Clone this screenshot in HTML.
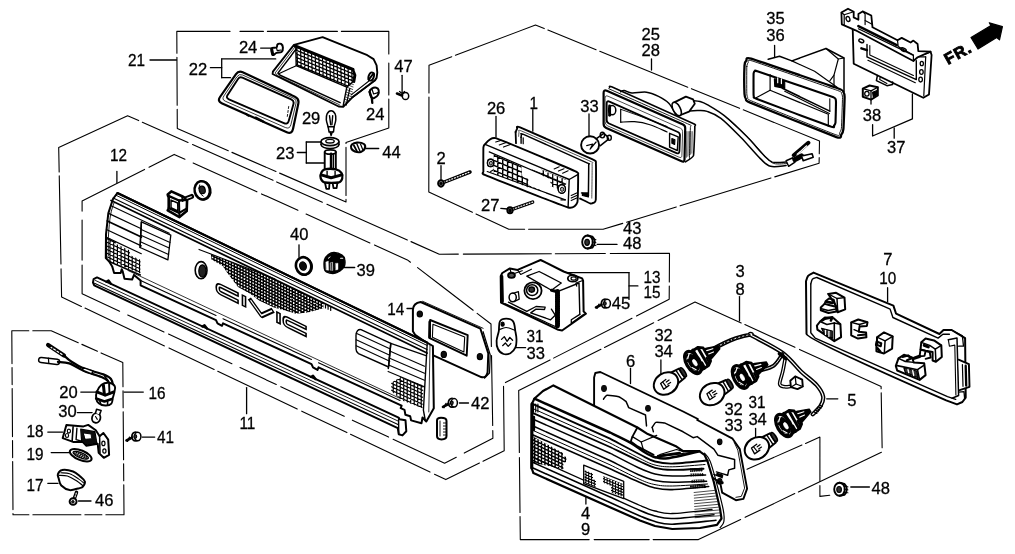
<!DOCTYPE html>
<html><head><meta charset="utf-8"><title>Taillight parts diagram</title>
<style>html,body{margin:0;padding:0;background:#fff}svg{display:block;font-family:"Liberation Sans",sans-serif;fill:#000}</style>
</head><body>
<svg width="1015" height="554" viewBox="0 0 1015 554">
<rect x="0" y="0" width="1015" height="554" fill="#fff" stroke="none"/>
<defs><filter id="soft" x="0" y="0" width="100%" height="100%" filterUnits="userSpaceOnUse"><feGaussianBlur stdDeviation="0.38"/></filter></defs>
<g filter="url(#soft)">
<path d="M230 31.4 L176.8 31.4 L177.3 128.6 L346 202 L346 142.6 L388.8 128 L388.8 63" fill="none" stroke="#000" stroke-width="1.1" stroke-linejoin="round" stroke-linecap="round" stroke-dasharray="75 4 48 4" />
<path d="M388.8 54 L388.8 31.4 L240 31.4" fill="none" stroke="#000" stroke-width="1.1" stroke-linejoin="round" stroke-linecap="round" stroke-dasharray="70 4" />
<path d="M428.8 192 L429 65.3 L535.5 25 L819.5 141 L819.1 163.3 L621 223.9 L603.1 229.3 L508.8 229.3 L428.8 192" fill="none" stroke="#000" stroke-width="1.1" stroke-linejoin="round" stroke-linecap="round" stroke-dasharray="95 4 52 4" />
<path d="M58.7 147.5 L127.6 115.7 L439.3 254.2 L669.5 253.2 L669.2 299.3 L503.5 383.6 L504.2 450.8 L445.8 479.6 L61.6 297 L58.7 147.5" fill="none" stroke="#000" stroke-width="1.1" stroke-linejoin="round" stroke-linecap="round" stroke-dasharray="88 4 50 5" />
<path d="M82.1 201 L174.2 154.4 L407.4 259.9 L441.6 286 L491 324 L492.9 438.2 L444.6 463.3 L82.1 293.7 L82.1 201" fill="none" stroke="#000" stroke-width="1.1" stroke-linejoin="round" stroke-linecap="round" stroke-dasharray="70 5 40 9" />
<path d="M518.7 390.5 L695 302 L881.1 386.4 L882.2 451.9 L698.4 539.6 L520.3 539.6 L518.7 390.5" fill="none" stroke="#000" stroke-width="1.1" stroke-linejoin="round" stroke-linecap="round" stroke-dasharray="92 4 55 5" />
<path d="M11.8 330.7 L51.2 330.7 L122.8 362.6 L124 514.7 L13 514.7 L11.8 330.7" fill="none" stroke="#000" stroke-width="1.1" stroke-linejoin="round" stroke-linecap="round" stroke-dasharray="17 4 48 4" />
<path d="M747 469.2 L819.9 437.1 L819.9 496.4 L829.8 495.2" fill="none" stroke="#000" stroke-width="1.1" stroke-linejoin="round" stroke-linecap="round" stroke-dasharray="60 4" />
<text transform="translate(127.9 66.2) scale(0.9 1)" font-size="17" font-weight="normal" stroke="#000" stroke-width="0.3">21</text>
<text transform="translate(188.7 74.7) scale(0.975 1)" font-size="17" font-weight="normal" stroke="#000" stroke-width="0.3">22</text>
<text transform="translate(238.9 52.6) scale(0.975 1)" font-size="17" font-weight="normal" stroke="#000" stroke-width="0.3">24</text>
<text transform="translate(366 119.7) scale(0.975 1)" font-size="17" font-weight="normal" stroke="#000" stroke-width="0.3">24</text>
<text transform="translate(394.2 72.3) scale(0.975 1)" font-size="17" font-weight="normal" stroke="#000" stroke-width="0.3">47</text>
<text transform="translate(301.9 123.7) scale(0.975 1)" font-size="17" font-weight="normal" stroke="#000" stroke-width="0.3">29</text>
<text transform="translate(276.1 159.4) scale(0.975 1)" font-size="17" font-weight="normal" stroke="#000" stroke-width="0.3">23</text>
<text transform="translate(382.3 157.5) scale(0.975 1)" font-size="17" font-weight="normal" stroke="#000" stroke-width="0.3">44</text>
<text transform="translate(486.9 114.2) scale(0.975 1)" font-size="17" font-weight="normal" stroke="#000" stroke-width="0.3">26</text>
<text transform="translate(529.6 108.5) scale(0.9 1)" font-size="17" font-weight="normal" stroke="#000" stroke-width="0.3">1</text>
<text transform="translate(580.2 112.3) scale(0.975 1)" font-size="17" font-weight="normal" stroke="#000" stroke-width="0.3">33</text>
<text transform="translate(436.6 163.5) scale(0.975 1)" font-size="17" font-weight="normal" stroke="#000" stroke-width="0.3">2</text>
<text transform="translate(481 210.5) scale(0.975 1)" font-size="17" font-weight="normal" stroke="#000" stroke-width="0.3">27</text>
<text transform="translate(641.6 39.5) scale(0.975 1)" font-size="17" font-weight="normal" stroke="#000" stroke-width="0.3">25</text>
<text transform="translate(641.6 56) scale(0.975 1)" font-size="17" font-weight="normal" stroke="#000" stroke-width="0.3">28</text>
<text transform="translate(766.2 23.9) scale(0.975 1)" font-size="17" font-weight="normal" stroke="#000" stroke-width="0.3">35</text>
<text transform="translate(766.2 41) scale(0.975 1)" font-size="17" font-weight="normal" stroke="#000" stroke-width="0.3">36</text>
<text transform="translate(862.8 120.5) scale(0.975 1)" font-size="17" font-weight="normal" stroke="#000" stroke-width="0.3">38</text>
<text transform="translate(887 153) scale(0.975 1)" font-size="17" font-weight="normal" stroke="#000" stroke-width="0.3">37</text>
<text transform="translate(623.1 234.3) scale(0.975 1)" font-size="17" font-weight="normal" stroke="#000" stroke-width="0.3">43</text>
<text transform="translate(623.1 249.2) scale(0.975 1)" font-size="17" font-weight="normal" stroke="#000" stroke-width="0.3">48</text>
<text transform="translate(643.5 282.5) scale(0.9 1)" font-size="17" font-weight="normal" stroke="#000" stroke-width="0.3">13</text>
<text transform="translate(643.5 298.4) scale(0.9 1)" font-size="17" font-weight="normal" stroke="#000" stroke-width="0.3">15</text>
<text transform="translate(611.7 308.5) scale(0.975 1)" font-size="17" font-weight="normal" stroke="#000" stroke-width="0.3">45</text>
<text transform="translate(110.1 160.5) scale(0.9 1)" font-size="17" font-weight="normal" stroke="#000" stroke-width="0.3">12</text>
<text transform="translate(290.1 240) scale(0.975 1)" font-size="17" font-weight="normal" stroke="#000" stroke-width="0.3">40</text>
<text transform="translate(356.6 275.5) scale(0.975 1)" font-size="17" font-weight="normal" stroke="#000" stroke-width="0.3">39</text>
<text transform="translate(387.3 314.6) scale(0.9 1)" font-size="17" font-weight="normal" stroke="#000" stroke-width="0.3">14</text>
<text transform="translate(526.6 342) scale(0.9 1)" font-size="17" font-weight="normal" stroke="#000" stroke-width="0.3">31</text>
<text transform="translate(526.6 358.7) scale(0.975 1)" font-size="17" font-weight="normal" stroke="#000" stroke-width="0.3">33</text>
<text transform="translate(471.1 408.7) scale(0.975 1)" font-size="17" font-weight="normal" stroke="#000" stroke-width="0.3">42</text>
<text transform="translate(239.4 429) scale(0.9 1)" font-size="17" font-weight="normal" stroke="#000" stroke-width="0.3">11</text>
<text transform="translate(59.2 397.8) scale(0.975 1)" font-size="17" font-weight="normal" stroke="#000" stroke-width="0.3">20</text>
<text transform="translate(58.3 417.2) scale(0.975 1)" font-size="17" font-weight="normal" stroke="#000" stroke-width="0.3">30</text>
<text transform="translate(148.6 399) scale(0.9 1)" font-size="17" font-weight="normal" stroke="#000" stroke-width="0.3">16</text>
<text transform="translate(26.4 437.3) scale(0.9 1)" font-size="17" font-weight="normal" stroke="#000" stroke-width="0.3">18</text>
<text transform="translate(26.4 460) scale(0.9 1)" font-size="17" font-weight="normal" stroke="#000" stroke-width="0.3">19</text>
<text transform="translate(26.4 491.2) scale(0.9 1)" font-size="17" font-weight="normal" stroke="#000" stroke-width="0.3">17</text>
<text transform="translate(95.1 505.6) scale(0.975 1)" font-size="17" font-weight="normal" stroke="#000" stroke-width="0.3">46</text>
<text transform="translate(157 442.8) scale(0.9 1)" font-size="17" font-weight="normal" stroke="#000" stroke-width="0.3">41</text>
<text transform="translate(735.6 277) scale(0.975 1)" font-size="17" font-weight="normal" stroke="#000" stroke-width="0.3">3</text>
<text transform="translate(735.6 295) scale(0.975 1)" font-size="17" font-weight="normal" stroke="#000" stroke-width="0.3">8</text>
<text transform="translate(883.2 265.2) scale(0.975 1)" font-size="17" font-weight="normal" stroke="#000" stroke-width="0.3">7</text>
<text transform="translate(879.3 283.8) scale(0.9 1)" font-size="17" font-weight="normal" stroke="#000" stroke-width="0.3">10</text>
<text transform="translate(847.3 405.7) scale(0.975 1)" font-size="17" font-weight="normal" stroke="#000" stroke-width="0.3">5</text>
<text transform="translate(654.4 340.7) scale(0.975 1)" font-size="17" font-weight="normal" stroke="#000" stroke-width="0.3">32</text>
<text transform="translate(654.4 357.3) scale(0.975 1)" font-size="17" font-weight="normal" stroke="#000" stroke-width="0.3">34</text>
<text transform="translate(626 367) scale(0.975 1)" font-size="17" font-weight="normal" stroke="#000" stroke-width="0.3">6</text>
<text transform="translate(724.4 414.9) scale(0.975 1)" font-size="17" font-weight="normal" stroke="#000" stroke-width="0.3">32</text>
<text transform="translate(724.4 430.9) scale(0.975 1)" font-size="17" font-weight="normal" stroke="#000" stroke-width="0.3">33</text>
<text transform="translate(748.4 408.2) scale(0.9 1)" font-size="17" font-weight="normal" stroke="#000" stroke-width="0.3">31</text>
<text transform="translate(748.4 424.7) scale(0.975 1)" font-size="17" font-weight="normal" stroke="#000" stroke-width="0.3">34</text>
<text transform="translate(871.5 493.5) scale(0.975 1)" font-size="17" font-weight="normal" stroke="#000" stroke-width="0.3">48</text>
<text transform="translate(581 518.7) scale(0.975 1)" font-size="17" font-weight="normal" stroke="#000" stroke-width="0.3">4</text>
<text transform="translate(581 535.4) scale(0.975 1)" font-size="17" font-weight="normal" stroke="#000" stroke-width="0.3">9</text>
<path d="M150 60 L176.5 60" fill="none" stroke="#000" stroke-width="1.3" stroke-linejoin="round" stroke-linecap="round" />
<path d="M210.4 67.7 L221.7 67.7" fill="none" stroke="#000" stroke-width="1.3" stroke-linejoin="round" stroke-linecap="round" />
<path d="M221.7 58.9 L221.7 77.7" fill="none" stroke="#000" stroke-width="1.3" stroke-linejoin="round" stroke-linecap="round" />
<path d="M221.7 58.9 L275.7 58.9" fill="none" stroke="#000" stroke-width="1.3" stroke-linejoin="round" stroke-linecap="round" />
<path d="M221.7 77.7 L230.5 77.7" fill="none" stroke="#000" stroke-width="1.3" stroke-linejoin="round" stroke-linecap="round" />
<path d="M260.6 48.1 L270.7 48.1" fill="none" stroke="#000" stroke-width="1.3" stroke-linejoin="round" stroke-linecap="round" />
<path d="M402.1 75.3 L402.1 92.9" fill="none" stroke="#000" stroke-width="1.3" stroke-linejoin="round" stroke-linecap="round" />
<path d="M297.3 152.5 L306.3 152.5" fill="none" stroke="#000" stroke-width="1.3" stroke-linejoin="round" stroke-linecap="round" />
<path d="M306.3 142 L306.3 163" fill="none" stroke="#000" stroke-width="1.3" stroke-linejoin="round" stroke-linecap="round" />
<path d="M306.3 142 L321 142" fill="none" stroke="#000" stroke-width="1.3" stroke-linejoin="round" stroke-linecap="round" />
<path d="M306.3 163 L324 163" fill="none" stroke="#000" stroke-width="1.3" stroke-linejoin="round" stroke-linecap="round" />
<path d="M366 148.5 L378.7 148.5" fill="none" stroke="#000" stroke-width="1.3" stroke-linejoin="round" stroke-linecap="round" />
<path d="M496 116.4 L496 137" fill="none" stroke="#000" stroke-width="1.3" stroke-linejoin="round" stroke-linecap="round" />
<path d="M532.8 109.6 L532.8 131.2" fill="none" stroke="#000" stroke-width="1.3" stroke-linejoin="round" stroke-linecap="round" />
<path d="M589 114 L589 137" fill="none" stroke="#000" stroke-width="1.3" stroke-linejoin="round" stroke-linecap="round" />
<path d="M441 165.7 L441 179.4" fill="none" stroke="#000" stroke-width="1.3" stroke-linejoin="round" stroke-linecap="round" />
<path d="M500.8 208.3 L507.6 209" fill="none" stroke="#000" stroke-width="1.3" stroke-linejoin="round" stroke-linecap="round" />
<path d="M651.5 59 L651.5 70" fill="none" stroke="#000" stroke-width="1.3" stroke-linejoin="round" stroke-linecap="round" />
<path d="M774.6 45.5 L774.6 56.9" fill="none" stroke="#000" stroke-width="1.3" stroke-linejoin="round" stroke-linecap="round" />
<path d="M871 99.6 L871 104" fill="none" stroke="#000" stroke-width="1.3" stroke-linejoin="round" stroke-linecap="round" />
<path d="M912.4 93.9 L912.4 118.9 L872.6 136 L872.6 124.6" fill="none" stroke="#000" stroke-width="1.3" stroke-linejoin="round" stroke-linecap="round" />
<path d="M894.2 128 L894.2 138.2" fill="none" stroke="#000" stroke-width="1.3" stroke-linejoin="round" stroke-linecap="round" />
<path d="M597.2 244.4 L617 244.4" fill="none" stroke="#000" stroke-width="1.3" stroke-linejoin="round" stroke-linecap="round" />
<path d="M567.4 272.6 L629 272.6" fill="none" stroke="#000" stroke-width="1.3" stroke-linejoin="round" stroke-linecap="round" />
<path d="M629 272.6 L629 299.4" fill="none" stroke="#000" stroke-width="1.3" stroke-linejoin="round" stroke-linecap="round" />
<path d="M629 285.9 L637.9 285.9" fill="none" stroke="#000" stroke-width="1.3" stroke-linejoin="round" stroke-linecap="round" />
<path d="M116.9 171.4 L116.9 182.8" fill="none" stroke="#000" stroke-width="1.3" stroke-linejoin="round" stroke-linecap="round" />
<path d="M299 244.8 L299 257.3" fill="none" stroke="#000" stroke-width="1.3" stroke-linejoin="round" stroke-linecap="round" />
<path d="M344.4 267.5 L354.7 267.5" fill="none" stroke="#000" stroke-width="1.3" stroke-linejoin="round" stroke-linecap="round" />
<path d="M407 308.5 L412.7 308.5" fill="none" stroke="#000" stroke-width="1.3" stroke-linejoin="round" stroke-linecap="round" />
<path d="M516 347.7 L525.6 347.7" fill="none" stroke="#000" stroke-width="1.3" stroke-linejoin="round" stroke-linecap="round" />
<path d="M459.4 403 L468.5 403" fill="none" stroke="#000" stroke-width="1.3" stroke-linejoin="round" stroke-linecap="round" />
<path d="M246.6 387.6 L246.6 413.7" fill="none" stroke="#000" stroke-width="1.3" stroke-linejoin="round" stroke-linecap="round" />
<path d="M124 392.1 L143.3 392.1" fill="none" stroke="#000" stroke-width="1.3" stroke-linejoin="round" stroke-linecap="round" />
<path d="M80.8 392.1 L95.5 392.1" fill="none" stroke="#000" stroke-width="1.3" stroke-linejoin="round" stroke-linecap="round" />
<path d="M77.3 412.6 L92.1 412.6" fill="none" stroke="#000" stroke-width="1.3" stroke-linejoin="round" stroke-linecap="round" />
<path d="M47.8 432.1 L62.6 432.1" fill="none" stroke="#000" stroke-width="1.3" stroke-linejoin="round" stroke-linecap="round" />
<path d="M51.2 452.6 L69.4 452.6" fill="none" stroke="#000" stroke-width="1.3" stroke-linejoin="round" stroke-linecap="round" />
<path d="M47.8 483.3 L58 483.3" fill="none" stroke="#000" stroke-width="1.3" stroke-linejoin="round" stroke-linecap="round" />
<path d="M78.5 501 L91 501" fill="none" stroke="#000" stroke-width="1.3" stroke-linejoin="round" stroke-linecap="round" />
<path d="M142.2 437.1 L154.7 437.1" fill="none" stroke="#000" stroke-width="1.3" stroke-linejoin="round" stroke-linecap="round" />
<path d="M739.5 296.6 L739.5 320.9" fill="none" stroke="#000" stroke-width="1.3" stroke-linejoin="round" stroke-linecap="round" />
<path d="M887.6 287.7 L887.6 301.7" fill="none" stroke="#000" stroke-width="1.3" stroke-linejoin="round" stroke-linecap="round" />
<path d="M826.7 398.8 L837.8 398.8" fill="none" stroke="#000" stroke-width="1.3" stroke-linejoin="round" stroke-linecap="round" />
<path d="M660.9 360 L660.9 375.3" fill="none" stroke="#000" stroke-width="1.3" stroke-linejoin="round" stroke-linecap="round" />
<path d="M630.5 368.4 L630.5 383.6" fill="none" stroke="#000" stroke-width="1.3" stroke-linejoin="round" stroke-linecap="round" />
<path d="M755.6 428.4 L755.6 437.1" fill="none" stroke="#000" stroke-width="1.3" stroke-linejoin="round" stroke-linecap="round" />
<path d="M850.8 487 L869.4 487" fill="none" stroke="#000" stroke-width="1.3" stroke-linejoin="round" stroke-linecap="round" />
<path d="M585.9 495.3 L585.9 504" fill="none" stroke="#000" stroke-width="1.3" stroke-linejoin="round" stroke-linecap="round" />
<path d="M971 37.5 L991 25.6 L989.3 22.8 L1002.4 26.7 L999.5 39.8 L996.7 37.5 L978 49Z" fill="#000" stroke="#000" stroke-width="1.2" stroke-linejoin="round" stroke-linecap="round" />
<text transform="translate(948 65) rotate(-29)" font-size="16" font-weight="bold" letter-spacing="1" stroke="#000" stroke-width="0.9">FR.</text>
<path d="M294 44.8 L322.6 37.1 L367.3 55.2 L373.6 59.1 L376.6 65.4 L377.3 72.5 L376.6 77.9 L374.8 80.6 L352.1 97.6 L343.2 106.9 L338.7 106.5 L272.6 74 L272.9 71.6Z" fill="#fff" stroke="#000" stroke-width="1.9" stroke-linejoin="round" stroke-linecap="round" />
<path d="M296.2 48.9 L277.9 73.1 L280.1 75.2 L340.1 102.6" fill="none" stroke="#000" stroke-width="1.5" stroke-linejoin="round" stroke-linecap="round" />
<path d="M295.1 46.8 L275.2 72.9 L277.9 75.8 L339.4 104.7" fill="none" stroke="#000" stroke-width="0.8" stroke-linejoin="round" stroke-linecap="round" />
<path d="M278.8 73.8 L296.2 65.7" fill="none" stroke="#000" stroke-width="1.2" stroke-linejoin="round" stroke-linecap="round" />
<clipPath id="c1"><path d="M295.8 46.8 L352.7 70 L354.1 75.2 L353 81.8 L346.8 87.2 L296.2 65.7Z"/></clipPath>
<g clip-path="url(#c1)" stroke="#000" stroke-width="1.2" fill="none"><path d="M304.7 18.1L373.9 46.7M303.4 21.1L372.6 49.8M302.1 24.2L371.4 52.8M300.9 27.2L370.1 55.9M299.6 30.3L368.8 58.9M298.4 33.3L367.6 62M297.1 36.4L366.3 65M295.8 39.4L365 68.1M294.6 42.5L363.8 71.1M293.3 45.5L362.5 74.2M292 48.5L361.3 77.2M290.8 51.6L360 80.3M289.5 54.6L358.7 83.3M288.3 57.7L357.5 86.4M287 60.7L356.2 89.4M285.7 63.8L354.9 92.5M284.5 66.8L353.7 95.5M283.2 69.9L352.4 98.6M281.9 72.9L351.2 101.6M280.7 76L349.9 104.7M279.4 79L348.6 107.7M278.2 82.1L347.4 110.8M276.9 85.1L346.1 113.8M361.1 28.3L363.7 103.1M357.5 28.4L360.1 103.2M353.9 28.5L356.5 103.4M350.3 28.6L352.9 103.5M346.7 28.8L349.3 103.6M343.1 28.9L345.7 103.8M339.5 29L342.1 103.9M335.9 29.1L338.5 104M332.3 29.3L334.9 104.1M328.7 29.4L331.3 104.3M325.1 29.5L327.7 104.4M321.5 29.6L324.1 104.5M317.9 29.8L320.5 104.6M314.3 29.9L316.9 104.8M310.7 30L313.3 104.9M307.1 30.1L309.7 105M303.5 30.3L306.1 105.1M299.9 30.4L302.5 105.3M296.3 30.5L298.9 105.4M292.7 30.6L295.3 105.5M289.1 30.8L291.7 105.6"/></g>
<path d="M295.8 46.8 L352.7 70 L354.1 75.2 L353 81.8 L346.8 87.2 L296.2 65.7Z" fill="none" stroke="#000" stroke-width="1.4" stroke-linejoin="round" stroke-linecap="round" />
<path d="M294.7 45.7 L353 69.3" fill="none" stroke="#000" stroke-width="3" stroke-linejoin="round" stroke-linecap="round" />
<path d="M353 69.3 L355.2 75.2 L354.1 81.8" fill="none" stroke="#000" stroke-width="2.3" stroke-linejoin="round" stroke-linecap="round" />
<path d="M346.8 87.2 L343.2 105.6" fill="none" stroke="#000" stroke-width="1.4" stroke-linejoin="round" stroke-linecap="round" />
<path d="M349.8 88.6 L346.2 105.1" fill="none" stroke="#000" stroke-width="1.2" stroke-linejoin="round" stroke-linecap="round" />
<clipPath id="c2"><path d="M346.8 87.2 L354.1 81.8 L352.1 96.7 L344.1 104.7Z"/></clipPath>
<g clip-path="url(#c2)" stroke="#000" stroke-width="0.7" fill="none"><path d="M341.1 74.4L367.9 85.3M340.2 76.6L367 87.5M339.3 78.9L366.1 89.7M338.4 81.1L365.2 91.9M337.5 83.3L364.3 94.2M336.6 85.5L363.4 96.4M335.7 87.8L362.5 98.6M334.8 90L361.6 100.8M333.9 92.2L360.7 103.1M333 94.4L359.8 105.3M332.1 96.7L358.9 107.5M331.2 98.9L358 109.7M330.3 101.1L357.1 112"/></g>
<path d="M352.1 97.6 L375.4 80" fill="none" stroke="#000" stroke-width="1.4" stroke-linejoin="round" stroke-linecap="round" />
<path d="M351.2 94.9 L371.8 78.8" fill="none" stroke="#000" stroke-width="1.1" stroke-linejoin="round" stroke-linecap="round" />
<ellipse cx="371.2" cy="76.5" rx="2.6" ry="4.2" fill="#fff" stroke="#000" stroke-width="1.9" transform="rotate(20 371.2 76.5)"/>
<path d="M368.7 79.7 L373.6 73.4" fill="none" stroke="#000" stroke-width="1.9" stroke-linejoin="round" stroke-linecap="round" />
<path d="M236 74.1 Q238.6 70.4 242.7 72.3 L294.9 96.7 Q299.4 98.8 298.3 103.7 L293 129 Q291.9 134.4 286.8 132.2 L221.7 103.2 Q217.2 101.1 220 97 Z" fill="#fff" stroke="#000" stroke-width="2.2" stroke-linejoin="round" stroke-linecap="round" />
<path d="M238 79 Q239.7 76.5 242.4 77.7 L291.2 99.4 Q294.4 100.8 293.4 104.2 L288.7 120.9 Q287.6 124.7 283.9 123.1 L228.9 99.3 Q225.7 97.9 227.6 95 Z" fill="none" stroke="#000" stroke-width="1.9" stroke-linejoin="round" stroke-linecap="round" />
<path d="M237 76.6 Q239.1 73.4 242.6 75 L293.1 98 Q296.9 99.7 295.9 103.8 L290.9 124.7 Q289.7 129.4 285.3 127.5 L225.3 101.2 Q221.4 99.5 223.8 96.1 Z" fill="none" stroke="#000" stroke-width="0.8" stroke-linejoin="round" stroke-linecap="round" />
<path d="M245.8 113.7 L248.4 115.8" fill="none" stroke="#000" stroke-width="1.9" stroke-linejoin="round" stroke-linecap="round" />
<path d="M255.6 117.6 L263.6 121.7" fill="none" stroke="#000" stroke-width="2.3" stroke-linejoin="round" stroke-linecap="round" />
<path d="M288.7 106.5 L287.2 117.2" fill="none" stroke="#000" stroke-width="0.9" stroke-linejoin="round" stroke-linecap="round" stroke-dasharray="2 2" />
<path d="M271.7 48.4 C272.3 47.2 275.5 48.2 276.5 47.5 C277.5 46.8 276.8 44.9 277.6 44.3 C278.3 43.7 280.3 43.4 281.1 43.9 C282 44.5 282.9 46.2 282.9 47.5 C283 48.9 282.6 51.1 281.5 52 C280.4 52.9 278 52.4 276.5 52.9 C275 53.4 273.4 55.8 272.6 55 C271.8 54.3 271 49.7 271.7 48.4Z" fill="#fff" stroke="#000" stroke-width="2" stroke-linejoin="round" stroke-linecap="round" />
<path d="M271.7 48.9 L272.9 54.7" fill="none" stroke="#000" stroke-width="2.8" stroke-linejoin="round" stroke-linecap="round" />
<path d="M276.5 47.9 L277.2 50.7 L281.1 50" fill="none" stroke="#000" stroke-width="1.2" stroke-linejoin="round" stroke-linecap="round" />
<path d="M369.6 91.8 C369.6 90.3 370.7 89.3 371.8 88.6 C372.9 87.9 375.1 87.5 376.2 87.7 C377.4 88 378.3 88.9 378.6 90.1 C378.9 91.3 378.7 93.6 378 94.9 C377.4 96.1 375.9 97.1 374.8 97.6 C373.8 98.1 372.6 98.9 371.8 97.9 C370.9 97 369.6 93.4 369.6 91.8Z" fill="#fff" stroke="#000" stroke-width="2" stroke-linejoin="round" stroke-linecap="round" />
<path d="M369.6 91.8 L371.8 97.9 L372.3 102.9" fill="none" stroke="#000" stroke-width="2.3" stroke-linejoin="round" stroke-linecap="round" />
<path d="M371.8 88.6 L373.6 94 L378 92.6" fill="none" stroke="#000" stroke-width="1.2" stroke-linejoin="round" stroke-linecap="round" />
<path d="M328.1 126.7 C327.8 125.5 326.5 121.9 326.3 119.7 C326.2 117.6 326.3 115.3 327.1 113.8 C327.9 112.3 329.8 110.8 331.1 110.8 C332.4 110.8 334.3 112.3 335.1 113.8 C335.8 115.3 336 117.6 335.8 119.7 C335.7 121.9 334.4 125.5 334.1 126.7" fill="none" stroke="#000" stroke-width="1.5" stroke-linejoin="round" stroke-linecap="round" />
<path d="M328.1 126.7 L334.1 126.7 L333.5 132 L329.1 132Z" fill="none" stroke="#000" stroke-width="1.5" stroke-linejoin="round" stroke-linecap="round" />
<path d="M329.5 115.7 L330.7 124.7" fill="none" stroke="#000" stroke-width="1.4" stroke-linejoin="round" stroke-linecap="round" />
<path d="M332.7 115.7 L331.9 124.7" fill="none" stroke="#000" stroke-width="1.4" stroke-linejoin="round" stroke-linecap="round" />
<path d="M330.1 132 L331.1 135.6 L332.3 132" fill="none" stroke="#000" stroke-width="1.4" stroke-linejoin="round" stroke-linecap="round" />
<ellipse cx="330" cy="141.6" rx="9" ry="4" fill="#fff" stroke="#000" stroke-width="1.6" transform="rotate(0 330 141.6)"/>
<ellipse cx="330" cy="141.2" rx="4.2" ry="1.8" fill="none" stroke="#000" stroke-width="1.4" transform="rotate(0 330 141.2)"/>
<path d="M321 142 L321 144.5" fill="none" stroke="#000" stroke-width="1.4" stroke-linejoin="round" stroke-linecap="round" />
<path d="M339 142 L339 144.5" fill="none" stroke="#000" stroke-width="1.4" stroke-linejoin="round" stroke-linecap="round" />
<path d="M321 144.5 A9 4 0 0 0 339 144.5" fill="none" stroke="#000" stroke-width="1.5" stroke-linejoin="round" stroke-linecap="round" />
<path d="M324.7 151.9 L324.7 169.4 L335.8 169.4 L335.8 151.9" fill="#fff" stroke="#000" stroke-width="1.9" stroke-linejoin="round" stroke-linecap="round" />
<ellipse cx="330.3" cy="152" rx="5.6" ry="2.2" fill="#fff" stroke="#000" stroke-width="1.8" transform="rotate(0 330.3 152)"/>
<path d="M331.1 153.9 L331.1 169.4" fill="none" stroke="#000" stroke-width="2.6" stroke-linejoin="round" stroke-linecap="round" />
<path d="M333.5 153.9 L333.5 169.4" fill="none" stroke="#000" stroke-width="1.2" stroke-linejoin="round" stroke-linecap="round" />
<path d="M321.2 172.9 C321.8 171.4 322.3 170 324.7 169.4 C327.2 168.8 333.1 168.8 335.8 169.4 C338.6 170 340.4 171.4 341.4 172.9 C342.5 174.5 342.7 176.9 342.2 178.5 C341.7 180.1 341.5 181.8 338.6 182.5 C335.7 183.1 327.7 183.1 324.7 182.5 C321.7 181.8 321.4 180.1 320.8 178.5 C320.2 176.9 320.5 174.5 321.2 172.9Z" fill="#fff" stroke="#000" stroke-width="2.3" stroke-linejoin="round" stroke-linecap="round" />
<path d="M321.2 174.9 L331.1 177.7 L341.8 174.9" fill="none" stroke="#000" stroke-width="3" stroke-linejoin="round" stroke-linecap="round" />
<path d="M325.1 183.3 L326.3 188.8 L329.1 188.8 L329.5 183.3" fill="none" stroke="#000" stroke-width="1.8" stroke-linejoin="round" stroke-linecap="round" />
<path d="M332.7 183.3 L333.5 188.2 L336.6 188.2 L337.4 182.9" fill="none" stroke="#000" stroke-width="1.8" stroke-linejoin="round" stroke-linecap="round" />
<path d="M327.1 171.4 L327.1 177.3" fill="none" stroke="#000" stroke-width="1.4" stroke-linejoin="round" stroke-linecap="round" />
<path d="M335.1 171.4 L335.1 177.3" fill="none" stroke="#000" stroke-width="1.4" stroke-linejoin="round" stroke-linecap="round" />
<path d="M351.9 144.5 C352.9 143.6 354.9 142.7 356.9 142.6 C358.9 142.5 362.5 143 363.9 144 C365.2 144.9 365.3 147.2 364.8 148.5 C364.3 149.8 362.5 151.4 360.9 151.9 C359.2 152.4 356.5 152.1 354.9 151.5 C353.3 150.9 351.8 149.7 351.3 148.5 C350.8 147.4 351 145.5 351.9 144.5Z" fill="#fff" stroke="#000" stroke-width="2.1" stroke-linejoin="round" stroke-linecap="round" />
<path d="M353.9 145.5 L356.9 151.1" fill="none" stroke="#000" stroke-width="1.8" stroke-linejoin="round" stroke-linecap="round" />
<path d="M356.9 144 L359.9 151.1" fill="none" stroke="#000" stroke-width="1.4" stroke-linejoin="round" stroke-linecap="round" />
<path d="M360.5 144 L362.9 149.9" fill="none" stroke="#000" stroke-width="1.2" stroke-linejoin="round" stroke-linecap="round" />
<ellipse cx="405.5" cy="96" rx="3.2" ry="3.6" fill="none" stroke="#000" stroke-width="1.5" transform="rotate(0 405.5 96)"/>
<path d="M397 93.5 L402 95.5" fill="none" stroke="#000" stroke-width="2.6" stroke-linejoin="round" stroke-linecap="round" />
<path d="M399.5 91.5 L402.1 93.5 L404.6 91.5" fill="none" stroke="#000" stroke-width="1.2" stroke-linejoin="round" stroke-linecap="round" />
<path d="M515.6 132 C515.7 131.8 516.9 128.9 517.2 128.6 C517.5 128.3 515.1 125.3 520.1 127.4 C525.1 129.4 587.1 156.7 592.1 159.1 C597.2 161.6 595.7 161.2 595.9 163.9 C596.2 166.6 595.9 197.2 595.8 199.8 C595.6 202.4 594.2 202.4 593.9 202.7 C593.5 202.9 591.3 203.8 590.4 203.5 C589.5 203.3 580.8 198.9 580.1 198.6" fill="none" stroke="#000" stroke-width="1.9" stroke-linejoin="round" stroke-linecap="round" />
<path d="M515.6 132 L516 143.2" fill="none" stroke="#000" stroke-width="1.8" stroke-linejoin="round" stroke-linecap="round" />
<path d="M521.1 137.2 C521.1 137 521.3 134.9 521.5 134.8 C521.6 134.6 519.2 132.5 523.5 134.4 C527.9 136.3 582.7 160.9 587 162.9 C591.3 164.9 588.6 162.8 588.7 164.9 C588.8 167.1 588.4 193.4 588.4 195.5" fill="none" stroke="#000" stroke-width="1.5" stroke-linejoin="round" stroke-linecap="round" />
<path d="M588.4 195.5 L581.5 192.9" fill="none" stroke="#000" stroke-width="1.5" stroke-linejoin="round" stroke-linecap="round" />
<path d="M518.6 136.3 C518.6 136 518.9 132.4 519.1 132 C519.3 131.7 516.7 129 521.5 131 C526.2 132.9 585.4 159 590.1 161.2 C594.8 163.4 592 161.8 592.1 164.3 C592.3 166.7 591.8 195.8 591.8 198.1" fill="none" stroke="#000" stroke-width="0.7" stroke-linejoin="round" stroke-linecap="round" />
<path d="M582.4 192.9 L588.4 192.9 L588.4 196.9 L582.4 195.5Z" fill="#000" stroke="#000" stroke-width="1.2" stroke-linejoin="round" stroke-linecap="round" />
<path d="M521.1 137.2 L521.1 143.2" fill="none" stroke="#000" stroke-width="1.4" stroke-linejoin="round" stroke-linecap="round" />
<path d="M523.2 137.8 L523.2 143.7" fill="none" stroke="#000" stroke-width="1.2" stroke-linejoin="round" stroke-linecap="round" />
<path d="M483.4 147.4 C483.5 145.8 484.4 144.6 485.1 144 C485.8 143.5 490.3 136.6 495.7 138.2 C501.1 139.8 570.1 168.9 575 171.1 C579.9 173.3 577.9 173 578.1 174.9 C578.2 176.8 578 200.4 577.4 202.3 C576.8 204.3 573.6 209.1 568.1 207.5 C562.6 205.9 490.5 177.4 485.4 175.2 C480.4 173.1 483.5 173.1 483.4 171.5 C483.3 169.8 483.3 149.1 483.4 147.4Z" fill="#fff" stroke="#000" stroke-width="1.9" stroke-linejoin="round" stroke-linecap="round" />
<path d="M485.1 144.4 L569.2 179.5 L568.1 207.2" fill="none" stroke="#000" stroke-width="1.4" stroke-linejoin="round" stroke-linecap="round" />
<path d="M569.2 179.5 L577.7 174.6" fill="none" stroke="#000" stroke-width="1.3" stroke-linejoin="round" stroke-linecap="round" />
<path d="M489.2 151.9 L565.2 184.5" fill="none" stroke="#000" stroke-width="1.2" stroke-linejoin="round" stroke-linecap="round" />
<path d="M487.2 171.5 L565.4 199.9" fill="none" stroke="#000" stroke-width="1.2" stroke-linejoin="round" stroke-linecap="round" />
<path d="M571.2 195.5 L576.7 192.9" fill="none" stroke="#000" stroke-width="1.1" stroke-linejoin="round" stroke-linecap="round" />
<path d="M571.2 198.1 L576.7 195.5" fill="none" stroke="#000" stroke-width="1.1" stroke-linejoin="round" stroke-linecap="round" />
<path d="M571.2 200.6 L576.7 198.1" fill="none" stroke="#000" stroke-width="1.1" stroke-linejoin="round" stroke-linecap="round" />
<path d="M495.7 142 L501.7 140.2" fill="none" stroke="#000" stroke-width="1.1" stroke-linejoin="round" stroke-linecap="round" />
<path d="M499.2 144.9 L506.9 142.3" fill="none" stroke="#000" stroke-width="1.1" stroke-linejoin="round" stroke-linecap="round" />
<path d="M503.5 147.1 L510.3 144.5" fill="none" stroke="#000" stroke-width="1.1" stroke-linejoin="round" stroke-linecap="round" />
<path d="M554.1 168.9 L559.2 166.7" fill="none" stroke="#000" stroke-width="1.1" stroke-linejoin="round" stroke-linecap="round" />
<path d="M558.4 171.1 L564 168.7" fill="none" stroke="#000" stroke-width="1.1" stroke-linejoin="round" stroke-linecap="round" />
<path d="M562.6 173.2 L568.1 170.8" fill="none" stroke="#000" stroke-width="1.1" stroke-linejoin="round" stroke-linecap="round" />
<ellipse cx="490.6" cy="162.9" rx="3.1" ry="3.6" fill="#fff" stroke="#000" stroke-width="1.4" transform="rotate(0 490.6 162.9)"/>
<ellipse cx="490.9" cy="163.2" rx="1.5" ry="1.9" fill="#aaa" stroke="#000" stroke-width="0.9" transform="rotate(0 490.9 163.2)"/>
<ellipse cx="561.8" cy="189" rx="3.6" ry="4.2" fill="#fff" stroke="#000" stroke-width="1.4" transform="rotate(0 561.8 189)"/>
<ellipse cx="562.1" cy="189.3" rx="1.7" ry="2.1" fill="#aaa" stroke="#000" stroke-width="0.9" transform="rotate(0 562.1 189.3)"/>
<clipPath id="c3"><path d="M493.7 154.3 L521.5 166.3 L522.2 176.3 L528.3 179 L528.3 187.6 L520.1 184.2 L493.7 173.5Z"/></clipPath>
<g clip-path="url(#c3)" stroke="#000" stroke-width="1.4" fill="none"><path d="M497.2 136.8L545.1 157.2M495.4 141.1L543.3 161.4M493.6 145.3L541.5 165.6M491.8 149.5L539.7 169.9M490 153.8L537.9 174.1M488.2 158L536.1 178.3M486.4 162.2L534.3 182.6M484.6 166.5L532.5 186.8M482.8 170.7L530.7 191M481 174.9L528.9 195.3M479.2 179.2L527.2 199.5M477.4 183.4L525.4 203.7M537 144.9L537 197M532.1 144.9L532.1 197M527.2 144.9L527.2 197M522.3 144.9L522.3 197M517.4 144.9L517.4 197M512.5 144.9L512.5 197M507.6 144.9L507.6 197M502.7 144.9L502.7 197M497.8 144.9L497.8 197M492.9 144.9L492.9 197M488 144.9L488 197"/></g>
<clipPath id="c4"><path d="M541.2 169.4 L566.1 179.7 L566.1 184.5 L559.6 182.1 L558.5 189 L550.6 186.2 L550.3 179.2 L541.2 175.2Z"/></clipPath>
<g clip-path="url(#c4)" stroke="#000" stroke-width="1.3" fill="none"><path d="M544.2 155.8L577 169.7M542.5 159.9L575.3 173.8M540.8 163.9L573.6 177.8M539 168L571.8 181.9M537.3 172L570.1 185.9M535.6 176.1L568.4 190M533.9 180.1L566.7 194M532.2 184.2L565 198.1M530.4 188.2L563.2 202.1M571.5 161.4L571.5 197M566.8 161.4L566.8 197M562.1 161.4L562.1 197M557.4 161.4L557.4 197M552.7 161.4L552.7 197M548 161.4L548 197M543.3 161.4L543.3 197M538.6 161.4L538.6 197"/></g>
<path d="M532.6 170.1 L541.2 173.5" fill="none" stroke="#000" stroke-width="0.9" stroke-linejoin="round" stroke-linecap="round" />
<path d="M529.2 186 L542.1 191.2" fill="none" stroke="#000" stroke-width="0.9" stroke-linejoin="round" stroke-linecap="round" stroke-dasharray="2 3" />
<path d="M490.6 171.5 L493.7 169.8" fill="none" stroke="#000" stroke-width="1.1" stroke-linejoin="round" stroke-linecap="round" />
<path d="M560.9 199.8 L565.2 199.8" fill="none" stroke="#000" stroke-width="1.2" stroke-linejoin="round" stroke-linecap="round" />
<ellipse cx="490.6" cy="162.9" rx="3.1" ry="3.6" fill="#fff" stroke="#000" stroke-width="1.4" transform="rotate(0 490.6 162.9)"/>
<ellipse cx="490.9" cy="163.2" rx="1.5" ry="1.9" fill="#aaa" stroke="#000" stroke-width="0.9" transform="rotate(0 490.9 163.2)"/>
<ellipse cx="561.8" cy="189" rx="3.6" ry="4.2" fill="#fff" stroke="#000" stroke-width="1.4" transform="rotate(0 561.8 189)"/>
<ellipse cx="562.1" cy="189.3" rx="1.7" ry="2.1" fill="#aaa" stroke="#000" stroke-width="0.9" transform="rotate(0 562.1 189.3)"/>
<ellipse cx="590.1" cy="144.9" rx="9" ry="8.6" fill="#fff" stroke="#000" stroke-width="1.9" transform="rotate(0 590.1 144.9)"/>
<path d="M596.1 138.9 L603.8 133.4 L607.2 136.3 L608.6 139.2 L600.4 145.7" fill="none" stroke="#000" stroke-width="1.6" stroke-linejoin="round" stroke-linecap="round" />
<ellipse cx="602.4" cy="135.1" rx="2.2" ry="2.8" fill="none" stroke="#000" stroke-width="1.4" transform="rotate(0 602.4 135.1)"/>
<ellipse cx="609.3" cy="137.8" rx="2" ry="2.6" fill="none" stroke="#000" stroke-width="1.4" transform="rotate(0 609.3 137.8)"/>
<path d="M586.7 145.7 L592.7 144 L590.1 149.2 L596.1 142" fill="none" stroke="#000" stroke-width="1.2" stroke-linejoin="round" stroke-linecap="round" />
<path d="M441 183.4 L470 172" fill="none" stroke="#000" stroke-width="3.5" stroke-linejoin="round" stroke-linecap="round" />
<path d="M441 183.4 L470 172" fill="none" stroke="#fff" stroke-width="1.2" stroke-linejoin="round" stroke-linecap="round" stroke-dasharray="1.0 1.9" />
<ellipse cx="441" cy="183.4" rx="2.8" ry="3.2" fill="#fff" stroke="#000" stroke-width="2.1" transform="rotate(0 441 183.4)"/>
<ellipse cx="441" cy="183.4" rx="1.2" ry="1.4" fill="#000" stroke="#000" stroke-width="1.1" transform="rotate(0 441 183.4)"/>
<path d="M510 210.2 L532.6 202.1" fill="none" stroke="#000" stroke-width="3.5" stroke-linejoin="round" stroke-linecap="round" />
<path d="M510 210.2 L532.6 202.1" fill="none" stroke="#fff" stroke-width="1.2" stroke-linejoin="round" stroke-linecap="round" stroke-dasharray="1.0 1.9" />
<ellipse cx="510" cy="210.2" rx="2.6" ry="3" fill="#fff" stroke="#000" stroke-width="2.1" transform="rotate(0 510 210.2)"/>
<ellipse cx="510" cy="210.2" rx="1.2" ry="1.4" fill="#000" stroke="#000" stroke-width="1.1" transform="rotate(0 510 210.2)"/>
<path d="M692 100.5 C693.3 100.7 697.5 100.8 700 101.5 C702.5 102.2 703.1 102.2 707.2 104.6 C711.2 107 717.7 110.4 724.3 115.7 C730.9 121 740 129.7 746.6 136.3 C753.2 142.9 759.5 150.9 763.8 155.2 C768.1 159.5 768.6 160.9 772.3 162.1 C776.1 163.2 783.8 162.1 786.1 162.1" fill="none" stroke="#000" stroke-width="1.5" stroke-linejoin="round" stroke-linecap="round" />
<path d="M688 111 C689.7 110.9 694.8 110.4 698 110.5 C701.2 110.6 703.3 110.1 707.2 111.4 C711 112.7 715.2 113.9 720.9 118.3 C726.6 122.7 734.9 131.3 741.5 138 C748 144.8 755.5 153.9 760.3 158.6 C765.2 163.3 766.3 165.2 770.6 166.3 C774.9 167.5 783.5 165.6 786.1 165.5" fill="none" stroke="#000" stroke-width="1.5" stroke-linejoin="round" stroke-linecap="round" />
<path d="M725.9 117.1 C729.6 120.6 741.6 131.1 748.2 137.7 C754.8 144.3 761.1 152.3 765.4 156.6 C769.7 160.9 770.2 162.3 773.9 163.5 C777.7 164.6 785.4 163.5 787.7 163.5" fill="none" stroke="#000" stroke-width="0.9" stroke-linejoin="round" stroke-linecap="round" />
<path d="M786.1 160.7 L792.9 157.8 L795 162.1 L788.6 166.3Z" fill="#fff" stroke="#000" stroke-width="1.5" stroke-linejoin="round" stroke-linecap="round" />
<path d="M793.8 155.2 L808.4 142.8" fill="none" stroke="#000" stroke-width="4" stroke-linejoin="round" stroke-linecap="round" />
<path d="M797.2 154.3 L806.7 145.8" fill="none" stroke="#fff" stroke-width="1.2" stroke-linejoin="round" stroke-linecap="round" />
<path d="M795 159.5 L801.5 156" fill="none" stroke="#000" stroke-width="5.3" stroke-linejoin="round" stroke-linecap="round" />
<path d="M801.5 156 L812.1 153.8 L813.2 157.2 L803.2 160.7Z" fill="#fff" stroke="#000" stroke-width="1.6" stroke-linejoin="round" stroke-linecap="round" />
<path d="M609.6 87.4 C609.7 87.3 608 85.2 612.2 87 C616.3 88.8 689 121.6 693.1 123.6 C697.3 125.5 694.8 124.9 694.8 126.5 C694.9 128.1 693.9 153.9 693.5 155.6 C693 157.4 686 161.5 685.6 161.8" fill="none" stroke="#000" stroke-width="1.6" stroke-linejoin="round" stroke-linecap="round" />
<path d="M608.7 88.7 C612.7 90.5 684.9 122.5 689 124.4 C693.1 126.3 690.4 125.4 690.4 127.2 C690.4 128.9 689.4 157.1 689.4 158.7" fill="none" stroke="#000" stroke-width="0.9" stroke-linejoin="round" stroke-linecap="round" />
<path d="M620.7 91.8 C621.3 91.6 622.3 90.2 624.2 90.4 C626 90.6 628.2 92.7 631.9 93 C635.6 93.3 642 91.6 646.5 92.2 C650.9 92.7 654.8 94.6 658.5 96.4 C662.2 98.3 665.9 100.4 668.8 103.3 C671.6 106.3 674.5 112.3 675.6 114.1" fill="none" stroke="#000" stroke-width="1.5" stroke-linejoin="round" stroke-linecap="round" />
<path d="M674.3 102.4 L685.9 96.6 L693.1 99.4 L694.8 103.8 L689 111.7 L679.4 115.5Z" fill="#fff" stroke="#000" stroke-width="1.8" stroke-linejoin="round" stroke-linecap="round" />
<ellipse cx="676.7" cy="109" rx="3.6" ry="7.4" fill="#fff" stroke="#000" stroke-width="1.6" transform="rotate(-28 676.7 109)"/>
<path d="M685.9 96.6 L688.5 100.7 L689 111.7" fill="none" stroke="#000" stroke-width="0" stroke-linejoin="round" stroke-linecap="round" />
<path d="M603.6 92.9 Q603.6 89.4 606.8 90.8 L683 124.4 Q685.2 125.4 685.2 127.9 L684.5 159.5 Q684.4 162.5 681.6 161.3 L606.3 128 Q603.6 126.8 603.6 123.8 Z" fill="#fff" stroke="#000" stroke-width="2.2" stroke-linejoin="round" stroke-linecap="round" />
<path d="M606.7 103.4 Q606.7 100.4 609.4 101.6 L677.8 132 Q680.1 133 680 135.5 L679.4 151.3 Q679.2 154.3 676.5 153.1 L609 123.5 Q606.7 122.5 606.7 120 Z" fill="none" stroke="#000" stroke-width="1.8" stroke-linejoin="round" stroke-linecap="round" />
<path d="M605.1 98.1 Q605.1 94.9 608 96.2 L680.4 128.2 Q682.7 129.2 682.6 131.7 L681.9 155.4 Q681.8 158.4 679.1 157.2 L607.7 125.9 Q605.1 124.8 605.1 122 Z" fill="none" stroke="#000" stroke-width="0.7" stroke-linejoin="round" stroke-linecap="round" />
<path d="M620.7 109.3 L620.7 122.2" fill="none" stroke="#000" stroke-width="1.2" stroke-linejoin="round" stroke-linecap="round" />
<path d="M620.7 122.2 C623 122.1 629.6 121.2 634.5 121.7 C639.3 122.1 644.5 123 649.9 124.8 C655.3 126.5 664.2 130.8 667.1 132" fill="none" stroke="#000" stroke-width="1.2" stroke-linejoin="round" stroke-linecap="round" />
<path d="M620.7 109.3 L637.9 115.3 L667.1 126.5" fill="none" stroke="#000" stroke-width="0.9" stroke-linejoin="round" stroke-linecap="round" />
<ellipse cx="612.2" cy="110.2" rx="3.6" ry="4.6" fill="none" stroke="#000" stroke-width="1.5" transform="rotate(0 612.2 110.2)"/>
<path d="M609.6 105.9 L609.6 115.3" fill="none" stroke="#000" stroke-width="2.9" stroke-linejoin="round" stroke-linecap="round" />
<path d="M669.6 133.3 L678.2 136.8 L677.3 150.5 L669.6 147.1Z" fill="none" stroke="#000" stroke-width="1.4" stroke-linejoin="round" stroke-linecap="round" />
<path d="M671.9 138.5 L674.9 139.8 L674.6 144.5 L671.9 143.3Z" fill="#000" stroke="#000" stroke-width="1.2" stroke-linejoin="round" stroke-linecap="round" />
<path d="M686.8 131.6 L686.4 157.3" fill="none" stroke="#000" stroke-width="0.6" stroke-linejoin="round" stroke-linecap="round" />
<path d="M688.2 131.6 L687.8 156.3" fill="none" stroke="#000" stroke-width="0.6" stroke-linejoin="round" stroke-linecap="round" />
<path d="M689.5 131.6 L689.2 155.3" fill="none" stroke="#000" stroke-width="0.6" stroke-linejoin="round" stroke-linecap="round" />
<path d="M690.9 131.6 L690.6 154.3" fill="none" stroke="#000" stroke-width="0.6" stroke-linejoin="round" stroke-linecap="round" />
<path d="M692.3 131.6 L691.9 153.2" fill="none" stroke="#000" stroke-width="0.6" stroke-linejoin="round" stroke-linecap="round" />
<path d="M768.2 59.3 L779.5 56.3 L791.9 60.9 L826 48.5 L844 58 L844 92.1 L837.4 88.3" fill="#fff" stroke="#000" stroke-width="1.5" stroke-linejoin="round" stroke-linecap="round" />
<path d="M791.9 60.9 L814.6 71.3 L837.4 87.4" fill="none" stroke="#000" stroke-width="1.2" stroke-linejoin="round" stroke-linecap="round" />
<path d="M826 48.5 L838.3 59 L834 75.1 L834 85.5" fill="none" stroke="#000" stroke-width="1.2" stroke-linejoin="round" stroke-linecap="round" />
<path d="M838.3 59 L844 58" fill="none" stroke="#000" stroke-width="1.2" stroke-linejoin="round" stroke-linecap="round" />
<path d="M834 75.1 L829.8 80.8" fill="none" stroke="#000" stroke-width="1.1" stroke-linejoin="round" stroke-linecap="round" />
<path d="M744.5 65.6 C744.6 63.4 745.9 60.9 746.4 60.5 C746.8 60 745 56.7 751.1 58.6 C757.2 60.4 832.2 86.3 838.3 88.5 C844.5 90.8 843 91.6 843.4 92.1 C843.9 92.7 844.6 94.4 844.6 96.9 C844.6 99.3 843.7 126.6 843.4 129.1 C843.2 131.6 841.6 134.3 841.2 134.8 C840.7 135.3 842.5 139.2 836.4 137.1 C830.4 134.9 756.2 105.1 750.2 102.6 C744.1 100 746.4 99.7 746 99.1 C745.6 98.6 744.6 96.3 744.5 94 C744.4 91.8 744.4 67.8 744.5 65.6Z" fill="#fff" stroke="#000" stroke-width="2.3" stroke-linejoin="round" stroke-linecap="round" />
<path d="M746.8 66.5 C746.9 64.5 747.9 62.7 748.3 62.4 C748.6 62 746.1 59 752.1 60.9 C758 62.7 831.4 88.3 837.4 90.4 C843.3 92.6 841.2 93 841.5 93.5 C841.9 93.9 842.5 95.3 842.5 97.6 C842.5 100 841.6 126 841.4 128.3 C841.1 130.7 839.8 132.5 839.5 132.9 C839.1 133.3 841.7 136.9 835.9 134.8 C830 132.7 757.5 103.5 751.7 101 C745.8 98.6 748.2 98.5 747.9 98 C747.6 97.5 746.8 95.6 746.8 93.5 C746.7 91.4 746.7 68.6 746.8 66.5Z" fill="none" stroke="#000" stroke-width="0.9" stroke-linejoin="round" stroke-linecap="round" />
<path d="M753.6 73.4 C753.7 71.8 754.8 71.2 755.1 71.1 C755.4 71 753 69.8 758.1 71.5 C763.2 73.2 826.1 94.7 831.3 96.5 C836.5 98.3 835.2 98.6 835.5 99 C835.8 99.4 836 101 836 102.6 C836 104.1 835.6 121.1 835.5 122.7 C835.3 124.2 834.3 125.4 834 125.7 C833.6 126 835.9 128.4 830.7 126.6 C825.6 124.9 762.1 100.9 757 99 C751.9 97 754.4 97.5 754.1 97.3 C753.9 97 753.6 96.6 753.6 95 C753.5 93.4 753.5 75 753.6 73.4Z" fill="none" stroke="#000" stroke-width="2.1" stroke-linejoin="round" stroke-linecap="round" />
<path d="M770.1 74.5 L770.1 90.2 L756.2 97.8" fill="none" stroke="#000" stroke-width="1.2" stroke-linejoin="round" stroke-linecap="round" />
<path d="M770.1 90.2 L828.3 114.3 L828.3 126.3" fill="none" stroke="#000" stroke-width="1.2" stroke-linejoin="round" stroke-linecap="round" />
<path d="M782.4 88.3 L829.8 111.1" fill="none" stroke="#000" stroke-width="1.6" stroke-linejoin="round" stroke-linecap="round" />
<path d="M784.7 91.2 L829.4 113.6" fill="none" stroke="#000" stroke-width="1.1" stroke-linejoin="round" stroke-linecap="round" />
<path d="M774.4 78.9 L784.7 80.8 L784.7 88.3 L774.8 86.4Z" fill="#000" stroke="#000" stroke-width="1.2" stroke-linejoin="round" stroke-linecap="round" />
<path d="M777.7 77.9 L777.7 82.7" fill="none" stroke="#fff" stroke-width="1.2" stroke-linejoin="round" stroke-linecap="round" />
<path d="M781.4 78.9 L781.4 83.6" fill="none" stroke="#fff" stroke-width="1.2" stroke-linejoin="round" stroke-linecap="round" />
<path d="M829.8 98.8 L829.8 111.1" fill="none" stroke="#000" stroke-width="1.1" stroke-linejoin="round" stroke-linecap="round" />
<path d="M852.7 28.4 L917.2 56.9 L930.5 51.6 L931.6 55 L929 94.4 L923.3 97.8 L853.7 63.7Z" fill="#fff" stroke="#000" stroke-width="1.8" stroke-linejoin="round" stroke-linecap="round" />
<path d="M925.7 56.9 L923.8 95.7" fill="none" stroke="#000" stroke-width="1.2" stroke-linejoin="round" stroke-linecap="round" />
<path d="M917.2 56.9 L925.7 56.9" fill="none" stroke="#000" stroke-width="1.1" stroke-linejoin="round" stroke-linecap="round" />
<path d="M841.4 12.5 L848 8.7 L853.7 11.8 L853.7 17.4 L858.4 19.7 L858.4 14 L862.6 11.4 L871.3 15.5 L872.5 27.3 L897.5 40.2 L901.7 37.9 L910.6 42.5 L913.4 40.6 L917.6 44 L918.3 51.2 L930.5 51.6 L917.6 57.3 L913.4 61 L855.6 30.3 L841.8 24.3Z" fill="#fff" stroke="#000" stroke-width="1.8" stroke-linejoin="round" stroke-linecap="round" />
<path d="M858.4 26.2 L896.7 45.1" fill="none" stroke="#000" stroke-width="2.6" stroke-linejoin="round" stroke-linecap="round" />
<path d="M858.4 28.8 L913.4 55.4" fill="none" stroke="#000" stroke-width="1.2" stroke-linejoin="round" stroke-linecap="round" />
<path d="M841.4 12.5 L844.2 14.8 L844.2 25" fill="none" stroke="#000" stroke-width="1.2" stroke-linejoin="round" stroke-linecap="round" />
<path d="M844.2 14.8 L853.7 11.8" fill="none" stroke="#000" stroke-width="1.1" stroke-linejoin="round" stroke-linecap="round" />
<path d="M862.6 11.4 L865.1 14.2 L865.1 24.6" fill="none" stroke="#000" stroke-width="1.2" stroke-linejoin="round" stroke-linecap="round" />
<path d="M865.1 20.5 L872.1 24.3" fill="none" stroke="#000" stroke-width="1.1" stroke-linejoin="round" stroke-linecap="round" />
<path d="M897.5 40.2 L898.2 46.6 L913.4 55 L913.4 61" fill="none" stroke="#000" stroke-width="1.2" stroke-linejoin="round" stroke-linecap="round" />
<ellipse cx="848" cy="19" rx="1.8" ry="2.6" fill="none" stroke="#000" stroke-width="1.4" transform="rotate(-20 848 19)"/>
<ellipse cx="861.3" cy="40.8" rx="2.6" ry="1.6" fill="none" stroke="#000" stroke-width="1.4" transform="rotate(25 861.3 40.8)"/>
<ellipse cx="903.6" cy="49.7" rx="2.8" ry="1.5" fill="none" stroke="#000" stroke-width="1.4" transform="rotate(25 903.6 49.7)"/>
<ellipse cx="921.8" cy="63.5" rx="1.6" ry="2.2" fill="none" stroke="#000" stroke-width="1.3" transform="rotate(0 921.8 63.5)"/>
<ellipse cx="921.4" cy="72" rx="1.8" ry="2.4" fill="none" stroke="#000" stroke-width="1.3" transform="rotate(0 921.4 72)"/>
<ellipse cx="920.6" cy="79.6" rx="1.8" ry="2.4" fill="none" stroke="#000" stroke-width="1.3" transform="rotate(0 920.6 79.6)"/>
<path d="M867 44.5 L867 56.9 L916.3 79.6 L916.3 60.7" fill="none" stroke="#000" stroke-width="1.4" stroke-linejoin="round" stroke-linecap="round" />
<path d="M869.8 45.5 L869.8 55 L913.4 75.5" fill="none" stroke="#000" stroke-width="1.1" stroke-linejoin="round" stroke-linecap="round" />
<path d="M861.3 48.3 L867 50.2" fill="none" stroke="#000" stroke-width="2.3" stroke-linejoin="round" stroke-linecap="round" />
<path d="M867.9 60.3 L915.3 82.7" fill="none" stroke="#000" stroke-width="1.2" stroke-linejoin="round" stroke-linecap="round" />
<path d="M877.4 75.5 L876.4 80.6 L886.9 85.7 L892.6 84.4 L892.6 81.9" fill="none" stroke="#000" stroke-width="1.5" stroke-linejoin="round" stroke-linecap="round" />
<path d="M880.2 76.8 L879.7 79.6 L886.9 83.4" fill="none" stroke="#000" stroke-width="1.1" stroke-linejoin="round" stroke-linecap="round" />
<path d="M862.8 88.7 L869.6 85.5 L877.8 87.3 L877.8 95.5 L871 99.6 L862.8 96.8Z" fill="#fff" stroke="#000" stroke-width="2" stroke-linejoin="round" stroke-linecap="round" />
<path d="M862.8 88.7 L871 90.9 L877.8 87.3" fill="none" stroke="#000" stroke-width="1.3" stroke-linejoin="round" stroke-linecap="round" />
<path d="M871 90.9 L871 99.6" fill="none" stroke="#000" stroke-width="1.3" stroke-linejoin="round" stroke-linecap="round" />
<ellipse cx="866.9" cy="93.7" rx="2.2" ry="2.4" fill="none" stroke="#000" stroke-width="1.3" transform="rotate(0 866.9 93.7)"/>
<path d="M872.6 92.3 L877.1 90.5 L877.1 95 L873.3 96.8Z" fill="#000" stroke="#000" stroke-width="1.2" stroke-linejoin="round" stroke-linecap="round" />
<path d="M427.5 343.3 L415.1 334.7 L412.9 331.3 L412.9 309.7 Q413.2 303.1 420.7 302.0 L480.4 328.7 L488.3 353.5 L487.6 372.2 Q486.5 378.2 481.2 377.1 L433.3 355.3" fill="none" stroke="#000" stroke-width="2" stroke-linejoin="round" stroke-linecap="round" />
<path d="M483.1 331.7 L490.2 354.8 L489.5 373 L484.6 378.2" fill="none" stroke="#000" stroke-width="1.2" stroke-linejoin="round" stroke-linecap="round" />
<path d="M422.6 301.3 L483.1 328.3" fill="none" stroke="#000" stroke-width="0.9" stroke-linejoin="round" stroke-linecap="round" />
<path d="M430.1 320 L467.7 335.1 L466.7 355.7 L429.2 337.9Z" fill="none" stroke="#000" stroke-width="1.9" stroke-linejoin="round" stroke-linecap="round" />
<path d="M432.9 324.2 L464.7 336.9 L463.9 352 L432.4 337.3Z" fill="none" stroke="#000" stroke-width="1.1" stroke-linejoin="round" stroke-linecap="round" />
<ellipse cx="419.8" cy="314" rx="2.6" ry="3" fill="#111" stroke="#000" stroke-width="1.2" transform="rotate(0 419.8 314)"/>
<ellipse cx="443.8" cy="354.4" rx="2.6" ry="3" fill="#111" stroke="#000" stroke-width="1.2" transform="rotate(0 443.8 354.4)"/>
<ellipse cx="479.9" cy="356.7" rx="2.6" ry="3" fill="#111" stroke="#000" stroke-width="1.2" transform="rotate(0 479.9 356.7)"/>
<path d="M429.7 321.9 L429.7 336.9" fill="none" stroke="#000" stroke-width="2.6" stroke-linejoin="round" stroke-linecap="round" />
<path d="M506.2 318.7 C508.4 318.7 511.6 319.4 513.1 321.4 C514.7 323.5 514.8 328.1 515.3 331.1 C515.9 334.1 516.5 336.6 516.5 339.4 C516.5 342.1 516.4 345.4 515.3 347.7 C514.3 350 512.4 352.1 510.4 353.2 C508.4 354.2 505.5 354.7 503.5 354 C501.4 353.3 499.1 351.3 498 349 C496.8 346.8 496.4 343.7 496.6 340.8 C496.7 337.8 498.2 334.3 498.8 331.1 C499.3 327.9 498.6 323.5 499.9 321.4 C501.1 319.4 504 318.7 506.2 318.7Z" fill="#fff" stroke="#000" stroke-width="1.8" stroke-linejoin="round" stroke-linecap="round" />
<path d="M499.3 329.7 C500.5 329.3 503.7 327.4 506.2 327.5 C508.8 327.6 513.4 329.8 514.8 330.3" fill="none" stroke="#000" stroke-width="1.2" stroke-linejoin="round" stroke-linecap="round" />
<ellipse cx="502.6" cy="324.2" rx="1.6" ry="2" fill="#000" stroke="#000" stroke-width="1.2" transform="rotate(0 502.6 324.2)"/>
<path d="M501.5 339.4 L504.3 336.6 L507.1 341.3 L509.8 337.4 L512.6 340.2" fill="none" stroke="#000" stroke-width="1.3" stroke-linejoin="round" stroke-linecap="round" />
<path d="M502.6 345.7 L505.4 343 L508.2 346.3 L510.9 343.5" fill="none" stroke="#000" stroke-width="1.2" stroke-linejoin="round" stroke-linecap="round" />
<ellipse cx="587.5" cy="242" rx="5.3" ry="6.5" fill="#fff" stroke="#000" stroke-width="1.9" transform="rotate(0 587.5 242)"/>
<ellipse cx="587.1" cy="242.3" rx="2.3" ry="3" fill="#333" stroke="#000" stroke-width="1.2" transform="rotate(0 587.1 242.3)"/>
<path d="M587.5 235.5 L592.5 236.7 A5.2 6.5 0 0 1 592.5 247.5 L587.5 248.5" fill="none" stroke="#000" stroke-width="1.9" stroke-linejoin="round" stroke-linecap="round" />
<path d="M592 239 L596 239.6" fill="none" stroke="#000" stroke-width="0.9" stroke-linejoin="round" stroke-linecap="round" />
<path d="M592 242 L596 242.6" fill="none" stroke="#000" stroke-width="0.9" stroke-linejoin="round" stroke-linecap="round" />
<path d="M592 245 L596 245.6" fill="none" stroke="#000" stroke-width="0.9" stroke-linejoin="round" stroke-linecap="round" />
<ellipse cx="839.5" cy="489.2" rx="5.3" ry="6.5" fill="#fff" stroke="#000" stroke-width="1.9" transform="rotate(0 839.5 489.2)"/>
<ellipse cx="839.1" cy="489.5" rx="2.3" ry="3" fill="#333" stroke="#000" stroke-width="1.2" transform="rotate(0 839.1 489.5)"/>
<path d="M839.5 482.7 L844.5 483.9 A5.2 6.5 0 0 1 844.5 494.7 L839.5 495.7" fill="none" stroke="#000" stroke-width="1.9" stroke-linejoin="round" stroke-linecap="round" />
<path d="M844 486.2 L848 486.8" fill="none" stroke="#000" stroke-width="0.9" stroke-linejoin="round" stroke-linecap="round" />
<path d="M844 489.2 L848 489.8" fill="none" stroke="#000" stroke-width="0.9" stroke-linejoin="round" stroke-linecap="round" />
<path d="M844 492.2 L848 492.8" fill="none" stroke="#000" stroke-width="0.9" stroke-linejoin="round" stroke-linecap="round" />
<ellipse cx="605" cy="303.5" rx="3.6" ry="4.4" fill="#fff" stroke="#000" stroke-width="1.8" transform="rotate(0 605 303.5)"/>
<ellipse cx="607.2" cy="303.5" rx="3.2" ry="4.2" fill="#fff" stroke="#000" stroke-width="1.5" transform="rotate(0 607.2 303.5)"/>
<ellipse cx="604.8" cy="303.5" rx="1.4" ry="1.8" fill="#333" stroke="#000" stroke-width="1.1" transform="rotate(0 604.8 303.5)"/>
<path d="M601.5 304.7 L596 307.5" fill="none" stroke="#000" stroke-width="2.6" stroke-linejoin="round" stroke-linecap="round" />
<path d="M599 304 L597 308.5" fill="none" stroke="#000" stroke-width="1.2" stroke-linejoin="round" stroke-linecap="round" />
<ellipse cx="452" cy="402.8" rx="3.6" ry="4.4" fill="#fff" stroke="#000" stroke-width="1.8" transform="rotate(0 452 402.8)"/>
<ellipse cx="454.2" cy="402.8" rx="3.2" ry="4.2" fill="#fff" stroke="#000" stroke-width="1.5" transform="rotate(0 454.2 402.8)"/>
<ellipse cx="451.8" cy="402.8" rx="1.4" ry="1.8" fill="#333" stroke="#000" stroke-width="1.1" transform="rotate(0 451.8 402.8)"/>
<path d="M448.5 404 L443 406.8" fill="none" stroke="#000" stroke-width="2.6" stroke-linejoin="round" stroke-linecap="round" />
<path d="M446 403.3 L444 407.8" fill="none" stroke="#000" stroke-width="1.2" stroke-linejoin="round" stroke-linecap="round" />
<ellipse cx="135.5" cy="436.5" rx="3.6" ry="4.4" fill="#fff" stroke="#000" stroke-width="1.8" transform="rotate(0 135.5 436.5)"/>
<ellipse cx="137.7" cy="436.5" rx="3.2" ry="4.2" fill="#fff" stroke="#000" stroke-width="1.5" transform="rotate(0 137.7 436.5)"/>
<ellipse cx="135.3" cy="436.5" rx="1.4" ry="1.8" fill="#333" stroke="#000" stroke-width="1.1" transform="rotate(0 135.3 436.5)"/>
<path d="M132 437.7 L126.5 440.5" fill="none" stroke="#000" stroke-width="2.6" stroke-linejoin="round" stroke-linecap="round" />
<path d="M129.5 437 L127.5 441.5" fill="none" stroke="#000" stroke-width="1.2" stroke-linejoin="round" stroke-linecap="round" />
<path d="M437 420.5 Q437 417.8 441 417.8 Q446.5 417.8 446.5 421 L446.5 436 Q446.5 439.4 441.5 439.4 Q437 439.4 437 436Z" fill="#fff" stroke="#000" stroke-width="2" stroke-linejoin="round" stroke-linecap="round" />
<path d="M443.4 423 L445.6 423" fill="none" stroke="#000" stroke-width="0.9" stroke-linejoin="round" stroke-linecap="round" />
<path d="M443.4 426 L445.6 426" fill="none" stroke="#000" stroke-width="0.9" stroke-linejoin="round" stroke-linecap="round" />
<path d="M443.4 429 L445.6 429" fill="none" stroke="#000" stroke-width="0.9" stroke-linejoin="round" stroke-linecap="round" />
<path d="M443.4 432 L445.6 432" fill="none" stroke="#000" stroke-width="0.9" stroke-linejoin="round" stroke-linecap="round" />
<path d="M443.4 435 L445.6 435" fill="none" stroke="#000" stroke-width="0.9" stroke-linejoin="round" stroke-linecap="round" />
<path d="M440 421 L440 436" fill="none" stroke="#000" stroke-width="0.9" stroke-linejoin="round" stroke-linecap="round" />
<path d="M500.7 276.1 L502.3 273 L509.9 268.4 L517.6 269.9 L540.6 260 L563.6 271.5 L582.1 278.4 L583.1 280.7 L583.6 311.4 L585.9 313.7 L562.1 330.5 L558.3 329.8 L501 302.5Z" fill="#fff" stroke="#000" stroke-width="2" stroke-linejoin="round" stroke-linecap="round" />
<path d="M502 276.4 L502.6 301.4" fill="none" stroke="#000" stroke-width="2.6" stroke-linejoin="round" stroke-linecap="round" />
<path d="M557.5 291.7 L579 283 L579.8 314.4" fill="none" stroke="#000" stroke-width="1.4" stroke-linejoin="round" stroke-linecap="round" />
<path d="M557.5 291.4 L557.5 325.9" fill="none" stroke="#000" stroke-width="4.9" stroke-linejoin="round" stroke-linecap="round" />
<path d="M551.4 290.2 L557.5 291.7" fill="none" stroke="#000" stroke-width="3" stroke-linejoin="round" stroke-linecap="round" />
<clipPath id="c5"><path d="M555.2 293 L559.8 293 L559.8 325.2 L555.2 323.6Z"/></clipPath>
<g clip-path="url(#c5)" stroke="#000" stroke-width="0.9" fill="none"><path d="M539.2 290.8L575.8 290.8M539.2 293L575.8 293M539.2 295.2L575.8 295.2M539.2 297.4L575.8 297.4M539.2 299.6L575.8 299.6M539.2 301.8L575.8 301.8M539.2 304L575.8 304M539.2 306.2L575.8 306.2M539.2 308.4L575.8 308.4M539.2 310.6L575.8 310.6M539.2 312.8L575.8 312.8M539.2 315L575.8 315M539.2 317.2L575.8 317.2M539.2 319.4L575.8 319.4M539.2 321.6L575.8 321.6M539.2 323.8L575.8 323.8M539.2 326L575.8 326"/></g>
<path d="M526.8 276.1 L539.1 271.5 L561.3 283 L551.4 290.2 L526.8 276.1" fill="none" stroke="#000" stroke-width="1.3" stroke-linejoin="round" stroke-linecap="round" />
<path d="M509.9 268.7 L511.5 274.5 L522.2 270.7" fill="none" stroke="#000" stroke-width="1.2" stroke-linejoin="round" stroke-linecap="round" />
<path d="M517.6 269.9 L520.7 274.5 L531.4 269.2" fill="none" stroke="#000" stroke-width="1.2" stroke-linejoin="round" stroke-linecap="round" />
<ellipse cx="533" cy="290.7" rx="8.6" ry="8.4" fill="none" stroke="#000" stroke-width="1.8" transform="rotate(0 533 290.7)"/>
<ellipse cx="532.2" cy="290.2" rx="5.6" ry="5.4" fill="none" stroke="#000" stroke-width="1.5" transform="rotate(0 532.2 290.2)"/>
<ellipse cx="531.7" cy="289.6" rx="2.8" ry="2.6" fill="#333" stroke="#000" stroke-width="1.4" transform="rotate(0 531.7 289.6)"/>
<ellipse cx="512.7" cy="297.3" rx="3.6" ry="4.4" fill="none" stroke="#000" stroke-width="1.5" transform="rotate(0 512.7 297.3)"/>
<path d="M513 293.3 L518.4 291.7 L519.2 299.1 L514.5 301.5" fill="none" stroke="#000" stroke-width="1.3" stroke-linejoin="round" stroke-linecap="round" />
<ellipse cx="511.5" cy="275.3" rx="3.4" ry="2.6" fill="#555" stroke="#000" stroke-width="1.9" transform="rotate(0 511.5 275.3)"/>
<ellipse cx="572.8" cy="278.4" rx="5" ry="3.2" fill="none" stroke="#000" stroke-width="1.8" transform="rotate(0 572.8 278.4)"/>
<ellipse cx="573.6" cy="278.5" rx="2.6" ry="1.6" fill="none" stroke="#000" stroke-width="1.2" transform="rotate(0 573.6 278.5)"/>
<path d="M508.4 302.2 L526.8 311.4 L536 306.5 L545.2 307.1 L544.5 309.5 L536 309.1 L530.7 312.9 L550.6 319.8 L555.2 315.2 L551.4 309.1" fill="none" stroke="#000" stroke-width="1.3" stroke-linejoin="round" stroke-linecap="round" />
<path d="M505.3 303.7 L557.5 327.5" fill="none" stroke="#000" stroke-width="1.1" stroke-linejoin="round" stroke-linecap="round" />
<path d="M579.8 314.4 L571.3 319.8 L571.3 323.3 L583.9 314.4" fill="none" stroke="#000" stroke-width="1.3" stroke-linejoin="round" stroke-linecap="round" />
<path d="M582.1 280.7 L575.9 283 L576.7 286.1" fill="none" stroke="#000" stroke-width="1.2" stroke-linejoin="round" stroke-linecap="round" />
<path d="M117.4 193 L112.9 199.2 L108.3 213.4 L106 234.3 L105.8 258 L109.2 261.5 L112.2 266.4 L114.1 273 L120.7 273 L121.7 269.2 L122.6 271.1 L124.5 278.7 L132.1 279.6 L134 274.9 L140.6 280.6 L140.6 285.3 L216 320.1 L217.5 323.3 L222 325.8 L223 323.3 L311.5 364.1 L313 367.3 L317.5 369.9 L318.5 367.3 L401.6 405.6 L400.7 408.2 L404.5 409.9 L405.4 414.7 L410.2 416.2 L411.1 420.4 L421.5 423.2 L422.5 417.5 L426.3 421.5 L433.8 408.2 L432.9 346 L426.1 342.1Z" fill="#fff" stroke="#000" stroke-width="2" stroke-linejoin="round" stroke-linecap="round" />
<path d="M117.4 193 L427 342.5" fill="none" stroke="#000" stroke-width="2.1" stroke-linejoin="round" stroke-linecap="round" />
<path d="M115.7 195.1 L427 345.4" fill="none" stroke="#000" stroke-width="1" stroke-linejoin="round" stroke-linecap="round" />
<path d="M113.2 198 L427 349.5" fill="none" stroke="#000" stroke-width="1.2" stroke-linejoin="round" stroke-linecap="round" />
<path d="M111.1 200.5 L427 353" fill="none" stroke="#000" stroke-width="1.8" stroke-linejoin="round" stroke-linecap="round" />
<path d="M114 203 C113.4 205 111.4 209.7 110.5 215 C109.6 220.3 108.9 228.2 108.5 235 C108.1 241.8 108.3 252.5 108.3 256" fill="none" stroke="#000" stroke-width="0.9" stroke-linejoin="round" stroke-linecap="round" />
<path d="M111.1 205.8 L169.3 233.2" fill="none" stroke="#000" stroke-width="1.1" stroke-linejoin="round" stroke-linecap="round" />
<path d="M108.6 213.4 L141.3 228.8" fill="none" stroke="#000" stroke-width="1.2" stroke-linejoin="round" stroke-linecap="round" />
<path d="M107.3 221 L141.3 237" fill="none" stroke="#000" stroke-width="1.9" stroke-linejoin="round" stroke-linecap="round" />
<path d="M106.4 229.5 L141.3 245.9" fill="none" stroke="#000" stroke-width="1.2" stroke-linejoin="round" stroke-linecap="round" />
<path d="M106 237.1 L141.3 253.7" fill="none" stroke="#000" stroke-width="1.2" stroke-linejoin="round" stroke-linecap="round" />
<path d="M141.4 221.9 L140.1 247.5" fill="none" stroke="#000" stroke-width="1.5" stroke-linejoin="round" stroke-linecap="round" />
<path d="M141.4 221.9 L170.8 235.2 L167.9 259.8 L140.1 247.5Z" fill="none" stroke="#000" stroke-width="1.3" stroke-linejoin="round" stroke-linecap="round" />
<path d="M141.2 229.5 L170 242.5" fill="none" stroke="#000" stroke-width="1.1" stroke-linejoin="round" stroke-linecap="round" />
<path d="M140.8 235.2 L169.2 248" fill="none" stroke="#000" stroke-width="1.1" stroke-linejoin="round" stroke-linecap="round" />
<path d="M140.4 241.8 L168.6 254.5" fill="none" stroke="#000" stroke-width="1.1" stroke-linejoin="round" stroke-linecap="round" />
<clipPath id="c6"><path d="M106 236 L115.8 241.8 L115.8 243.7 L130 250.4 L130 255.1 L140.5 259.8 L140.4 273.5 L109.2 261.5 L105.8 258Z"/></clipPath>
<g clip-path="url(#c6)" stroke="#000" stroke-width="1.2" fill="none"><path d="M109.8 218.1L159.8 241.4M108.4 221.1L158.4 244.4M107 224.1L157 247.4M105.6 227.1L155.6 250.4M104.2 230.1L154.2 253.4M102.9 233.1L152.8 256.4M101.5 236.1L151.4 259.4M100.1 239.1L150 262.4M98.7 242.1L148.6 265.4M97.3 245.1L147.2 268.3M95.9 248.1L145.8 271.3M94.5 251L144.4 274.3M93.1 254L143 277.3M91.7 257L141.6 280.3M90.3 260L140.2 283.3M88.9 263L138.8 286.3M87.5 266L137.4 289.3M150.7 227.2L150.7 282.3M147 227.2L147 282.3M143.3 227.2L143.3 282.3M139.6 227.2L139.6 282.3M135.9 227.2L135.9 282.3M132.2 227.2L132.2 282.3M128.5 227.2L128.5 282.3M124.8 227.2L124.8 282.3M121.1 227.2L121.1 282.3M117.4 227.2L117.4 282.3M113.7 227.2L113.7 282.3M110 227.2L110 282.3M106.3 227.2L106.3 282.3M102.6 227.2L102.6 282.3M98.9 227.2L98.9 282.3"/></g>
<path d="M109.2 261.5 L140.4 275" fill="none" stroke="#000" stroke-width="1.4" stroke-linejoin="round" stroke-linecap="round" />
<path d="M140.6 280.6 L216 315.5" fill="none" stroke="#000" stroke-width="1.1" stroke-linejoin="round" stroke-linecap="round" />
<path d="M223 318.7 L311.5 359.5" fill="none" stroke="#000" stroke-width="1.1" stroke-linejoin="round" stroke-linecap="round" />
<path d="M318.5 362.7 L400 400.5" fill="none" stroke="#000" stroke-width="1.1" stroke-linejoin="round" stroke-linecap="round" />
<path d="M128 270.5 L400 398.4" fill="none" stroke="#000" stroke-width="0.8" stroke-linejoin="round" stroke-linecap="round" />
<ellipse cx="201.1" cy="270.2" rx="5.9" ry="8.6" fill="#fff" stroke="#000" stroke-width="1.6" transform="rotate(0 201.1 270.2)"/>
<ellipse cx="202.4" cy="271" rx="3.6" ry="6.2" fill="#222" stroke="#000" stroke-width="1.2" transform="rotate(0 202.4 271)"/>
<clipPath id="c7"><path d="M210.9 253.9 L275 279 L323.5 303.4 L323.5 308.3 L308 312.5 L296 313.7 L274 307.6 L259 300.5 L250.5 294 L238 287 L227 272.5 L222.7 266 L211.4 259.6Z"/></clipPath>
<g clip-path="url(#c7)" stroke="#000" stroke-width="1.4" fill="none"><path d="M236.6 196L355 253.2M235.4 198.5L353.8 255.7M234.2 201L352.6 258.3M233 203.6L351.4 260.8M231.7 206.1L350.1 263.3M230.5 208.6L348.9 265.8M229.3 211.1L347.7 268.3M228.1 213.6L346.5 270.9M226.9 216.2L345.3 273.4M225.7 218.7L344 275.9M224.4 221.2L342.8 278.4M223.2 223.7L341.6 281M222 226.2L340.4 283.5M220.8 228.8L339.2 286M219.6 231.3L337.9 288.5M218.3 233.8L336.7 291M217.1 236.3L335.5 293.6M215.9 238.8L334.3 296.1M214.7 241.4L333.1 298.6M213.5 243.9L331.9 301.1M212.2 246.4L330.6 303.6M211 248.9L329.4 306.2M209.8 251.5L328.2 308.7M208.6 254L327 311.2M207.4 256.5L325.8 313.7M206.2 259L324.5 316.2M204.9 261.5L323.3 318.8M203.7 264.1L322.1 321.3M202.5 266.6L320.9 323.8M201.3 269.1L319.7 326.3M200.1 271.6L318.4 328.8M198.8 274.1L317.2 331.4M197.6 276.7L316 333.9M196.4 279.2L314.8 336.4M195.2 281.7L313.6 338.9M194 284.2L312.4 341.5M192.8 286.7L311.1 344M191.5 289.3L309.9 346.5M190.3 291.8L308.7 349M189.1 294.3L307.5 351.5M187.9 296.8L306.3 354.1M186.7 299.3L305 356.6M185.4 301.9L303.8 359.1M184.2 304.4L302.6 361.6M183 306.9L301.4 364.1M181.8 309.4L300.2 366.7M180.6 312L299 369.2M332.9 218.1L332.9 349.5M330 218.1L330 349.5M327.1 218.1L327.1 349.5M324.2 218.1L324.2 349.5M321.3 218.1L321.3 349.5M318.4 218.1L318.4 349.5M315.5 218.1L315.5 349.5M312.6 218.1L312.6 349.5M309.7 218.1L309.7 349.5M306.8 218.1L306.8 349.5M303.9 218.1L303.9 349.5M301 218.1L301 349.5M298.1 218.1L298.1 349.5M295.2 218.1L295.2 349.5M292.3 218.1L292.3 349.5M289.4 218.1L289.4 349.5M286.5 218.1L286.5 349.5M283.6 218.1L283.6 349.5M280.7 218.1L280.7 349.5M277.8 218.1L277.8 349.5M274.9 218.1L274.9 349.5M272 218.1L272 349.5M269.1 218.1L269.1 349.5M266.2 218.1L266.2 349.5M263.3 218.1L263.3 349.5M260.4 218.1L260.4 349.5M257.5 218.1L257.5 349.5M254.6 218.1L254.6 349.5M251.7 218.1L251.7 349.5M248.8 218.1L248.8 349.5M245.9 218.1L245.9 349.5M243 218.1L243 349.5M240.1 218.1L240.1 349.5M237.2 218.1L237.2 349.5M234.3 218.1L234.3 349.5M231.4 218.1L231.4 349.5M228.5 218.1L228.5 349.5M225.6 218.1L225.6 349.5M222.7 218.1L222.7 349.5M219.8 218.1L219.8 349.5M216.9 218.1L216.9 349.5M214 218.1L214 349.5M211.1 218.1L211.1 349.5M208.2 218.1L208.2 349.5M205.3 218.1L205.3 349.5M202.4 218.1L202.4 349.5"/></g>
<path d="M199 249.4 L210.9 253.9 L275 279" fill="none" stroke="#000" stroke-width="1.1" stroke-linejoin="round" stroke-linecap="round" />
<path d="M325.5 305 L325.5 308" fill="none" stroke="#000" stroke-width="1.2" stroke-linejoin="round" stroke-linecap="round" />
<path d="M328.1 306.2 L328.1 309.2" fill="none" stroke="#000" stroke-width="1.2" stroke-linejoin="round" stroke-linecap="round" />
<path d="M330.7 307.4 L330.7 310.4" fill="none" stroke="#000" stroke-width="1.2" stroke-linejoin="round" stroke-linecap="round" />
<g transform="matrix(1 0.49 0 1 215.5 281.2)" fill="none" stroke-linejoin="round">
<path d="M21 2.3 L5.3 2.3 Q2.3 2.3 2.3 5.3 L2.3 6.4 Q2.3 9.4 5.3 9.4 L21 9.4" stroke="#000" stroke-width="4.7" stroke-linecap="square"/>
<path d="M21 2.3 L5.3 2.3 Q2.3 2.3 2.3 5.3 L2.3 6.4 Q2.3 9.4 5.3 9.4 L21 9.4" stroke="#fff" stroke-width="1.5" stroke-linecap="square"/>
<path d="M28.5 2.3 L28.5 9.4" stroke="#000" stroke-width="4.7" stroke-linecap="square"/>
<path d="M28.5 2.3 L28.5 9.4" stroke="#fff" stroke-width="1.5" stroke-linecap="square"/>
<path d="M35.6 2.3 L46 11.8 L56 2.3" stroke="#000" stroke-width="4.7" stroke-linecap="square"/>
<path d="M35.6 2.3 L46 11.8 L56 2.3" stroke="#fff" stroke-width="1.5" stroke-linecap="square"/>
<path d="M63 2.3 L63 9.4" stroke="#000" stroke-width="4.7" stroke-linecap="square"/>
<path d="M63 2.3 L63 9.4" stroke="#fff" stroke-width="1.5" stroke-linecap="square"/>
<path d="M89 2.3 L72.2 2.3 Q69.2 2.3 69.2 5.3 L69.2 6.4 Q69.2 9.4 72.2 9.4 L89 9.4" stroke="#000" stroke-width="4.7" stroke-linecap="square"/>
<path d="M89 2.3 L72.2 2.3 Q69.2 2.3 69.2 5.3 L69.2 6.4 Q69.2 9.4 72.2 9.4 L89 9.4" stroke="#fff" stroke-width="1.5" stroke-linecap="square"/>
</g>
<path d="M361 329.6 L390.8 343.4 L388.6 367 L358.5 353.6 Q356 352 356 349 L356 335 Q356.5 329 361 329.6Z" fill="none" stroke="#000" stroke-width="1.4" stroke-linejoin="round" stroke-linecap="round" />
<path d="M356.2 333.3 L389.8 348.8" fill="none" stroke="#000" stroke-width="1.1" stroke-linejoin="round" stroke-linecap="round" />
<path d="M356.2 339.7 L389.8 355.2" fill="none" stroke="#000" stroke-width="1.1" stroke-linejoin="round" stroke-linecap="round" />
<path d="M356.2 345.7 L389.8 361.2" fill="none" stroke="#000" stroke-width="1.1" stroke-linejoin="round" stroke-linecap="round" />
<path d="M390.8 343.4 L426 355.6" fill="none" stroke="#000" stroke-width="1.2" stroke-linejoin="round" stroke-linecap="round" />
<path d="M389.7 350.9 L424.5 366.3" fill="none" stroke="#000" stroke-width="1.1" stroke-linejoin="round" stroke-linecap="round" />
<path d="M389.1 357.9 L424.5 373.3" fill="none" stroke="#000" stroke-width="1.1" stroke-linejoin="round" stroke-linecap="round" />
<path d="M388.6 364.9 L424.5 380.3" fill="none" stroke="#000" stroke-width="1.1" stroke-linejoin="round" stroke-linecap="round" />
<path d="M388.1 371.4 L424.5 386.8" fill="none" stroke="#000" stroke-width="1.1" stroke-linejoin="round" stroke-linecap="round" />
<path d="M390.8 343.4 L388.3 368.5" fill="none" stroke="#000" stroke-width="1.5" stroke-linejoin="round" stroke-linecap="round" />
<clipPath id="c8"><path d="M400.7 377 L423.4 385.5 L422.5 408.2 L402.6 400.7 L391.2 391.2 L391.2 382.7Z"/></clipPath>
<g clip-path="url(#c8)" stroke="#000" stroke-width="1.2" fill="none"><path d="M394.9 360.4L439.5 380.2M393.6 363.3L438.2 383.1M392.3 366.2L436.9 386.1M391 369.1L435.6 389M389.7 372.1L434.3 391.9M388.4 375L433 394.8M387.1 377.9L431.7 397.8M385.8 380.8L430.4 400.7M384.5 383.7L429.1 403.6M383.2 386.7L427.8 406.5M381.9 389.6L426.5 409.5M380.6 392.5L425.2 412.4M379.3 395.4L423.9 415.3M378 398.4L422.6 418.2M376.7 401.3L421.3 421.2M375.4 404.2L420 424.1M431.7 368.2L431.7 417M428.2 368.2L428.2 417M424.7 368.2L424.7 417M421.2 368.2L421.2 417M417.7 368.2L417.7 417M414.2 368.2L414.2 417M410.7 368.2L410.7 417M407.2 368.2L407.2 417M403.7 368.2L403.7 417M400.2 368.2L400.2 417M396.7 368.2L396.7 417M393.2 368.2L393.2 417M389.7 368.2L389.7 417M386.2 368.2L386.2 417"/></g>
<path d="M427.2 344 L423.4 410.2 L425.3 420.5" fill="none" stroke="#000" stroke-width="1.4" stroke-linejoin="round" stroke-linecap="round" />
<path d="M430 345 L428.8 412" fill="none" stroke="#000" stroke-width="0.8" stroke-linejoin="round" stroke-linecap="round" />
<path d="M97 277.4 L93.6 279.2 L93 282.5 L94.2 285.3 L397.8 428.2 L398.7 434.2 L402.5 435.4 L406.3 431.3 L405.5 420.2 L399.6 419.2 L398.6 417.6Z" fill="#fff" stroke="#000" stroke-width="2" stroke-linejoin="round" stroke-linecap="round" />
<path d="M95.5 280.5 L398 421" fill="none" stroke="#000" stroke-width="0.9" stroke-linejoin="round" stroke-linecap="round" />
<path d="M94.5 283.2 L398 424.6" fill="none" stroke="#000" stroke-width="1.1" stroke-linejoin="round" stroke-linecap="round" />
<path d="M398.6 417.6 L398.7 433" fill="none" stroke="#000" stroke-width="1.4" stroke-linejoin="round" stroke-linecap="round" />
<path d="M106.5 281.8 L108.5 280.5 L111 283.9" fill="none" stroke="#000" stroke-width="2.3" stroke-linejoin="round" stroke-linecap="round" />
<path d="M202.5 326.5 L204.5 325.2 L207 328.5" fill="none" stroke="#000" stroke-width="2.3" stroke-linejoin="round" stroke-linecap="round" />
<path d="M311 376.9 L313 375.6 L315.5 379" fill="none" stroke="#000" stroke-width="2.3" stroke-linejoin="round" stroke-linecap="round" />
<path d="M167.7 194.4 L171.3 191.4 L182.1 196.2 L187.1 199.4 L186.7 211.1 L179.5 217.1 L167.7 210.4 L168.7 208.6 L168.7 197.7Z" fill="#fff" stroke="#000" stroke-width="2.6" stroke-linejoin="round" stroke-linecap="round" />
<path d="M167.9 195.6 L179 200.5 L186.9 199.9" fill="none" stroke="#000" stroke-width="2.3" stroke-linejoin="round" stroke-linecap="round" />
<path d="M179 200.5 L179.4 216.5" fill="none" stroke="#000" stroke-width="2" stroke-linejoin="round" stroke-linecap="round" />
<path d="M168.7 208 L179.2 212.9 L186.5 208.6" fill="none" stroke="#000" stroke-width="2.2" stroke-linejoin="round" stroke-linecap="round" />
<path d="M171 200.1 L177.7 203 L177.9 210.9 L171 207.7Z" fill="none" stroke="#000" stroke-width="1.5" stroke-linejoin="round" stroke-linecap="round" />
<path d="M182.1 196.5 L182.6 201.2" fill="none" stroke="#000" stroke-width="1.8" stroke-linejoin="round" stroke-linecap="round" />
<path d="M186.4 198.6 L191.6 196.4" fill="none" stroke="#000" stroke-width="4.9" stroke-linejoin="round" stroke-linecap="round" />
<path d="M187.1 198.3 L191.2 196.7" fill="none" stroke="#fff" stroke-width="1.2" stroke-linejoin="round" stroke-linecap="round" />
<ellipse cx="203" cy="190.5" rx="7.6" ry="9.2" fill="#fff" stroke="#000" stroke-width="1.9" transform="rotate(-12 203 190.5)"/>
<ellipse cx="202.2" cy="190.3" rx="7.6" ry="9.2" fill="#fff" stroke="#000" stroke-width="2.5" transform="rotate(-12 202.2 190.3)"/>
<ellipse cx="202.2" cy="189.9" rx="3" ry="3.8" fill="#222" stroke="#000" stroke-width="1.2" transform="rotate(-12 202.2 189.9)"/>
<path d="M199.7 184.9 L198.8 188.5" fill="none" stroke="#000" stroke-width="0.9" stroke-linejoin="round" stroke-linecap="round" />
<path d="M201.1 194.4 L203.3 196.2" fill="none" stroke="#000" stroke-width="0.9" stroke-linejoin="round" stroke-linecap="round" />
<ellipse cx="304.3" cy="266.1" rx="7.6" ry="8.8" fill="#fff" stroke="#000" stroke-width="1.9" transform="rotate(-15 304.3 266.1)"/>
<ellipse cx="303.6" cy="265.9" rx="7.6" ry="8.8" fill="#fff" stroke="#000" stroke-width="2.6" transform="rotate(-15 303.6 265.9)"/>
<ellipse cx="303" cy="266.1" rx="3.3" ry="4.2" fill="#111" stroke="#000" stroke-width="1.2" transform="rotate(-15 303 266.1)"/>
<path d="M324.5 259.8 C325.2 257.4 326.7 255.8 328.3 254.5 C329.9 253.3 331.8 252.3 334.1 252.4 C336.3 252.5 340.2 253.9 342 255.1 C343.8 256.3 344.4 257.5 344.7 259.4 C345.1 261.4 345 264.7 344.2 266.6 C343.4 268.6 341.7 269.8 340 271 C338.3 272.1 336.3 273.3 334.1 273.4 C331.8 273.6 327.9 272.6 326.3 271.8 C324.7 271.1 324.7 270.8 324.4 268.8 C324.1 266.8 323.9 262.2 324.5 259.8Z" fill="#000" stroke="#000" stroke-width="1.4" stroke-linejoin="round" stroke-linecap="round" />
<path d="M326 262 L328.3 261 L328.6 270.3 L326.3 269.9Z" fill="#fff" stroke="#fff" stroke-width="0.4" stroke-linejoin="round" stroke-linecap="round" />
<path d="M330.6 262.7 L332.6 262.2 L332.8 270.6 L330.7 270.3Z" fill="#fff" stroke="#fff" stroke-width="0.4" stroke-linejoin="round" stroke-linecap="round" />
<path d="M335.6 263.4 L338 263.2 L338 269.5 L335.9 270Z" fill="#fff" stroke="#fff" stroke-width="0.4" stroke-linejoin="round" stroke-linecap="round" />
<path d="M331.6 263 L331.8 270.3" fill="none" stroke="#000" stroke-width="0.9" stroke-linejoin="round" stroke-linecap="round" />
<path d="M328.3 258.3 L330.1 256.9" fill="none" stroke="#fff" stroke-width="0.9" stroke-linejoin="round" stroke-linecap="round" />
<path d="M340.6 258.3 L342.7 258.3" fill="none" stroke="#fff" stroke-width="1.1" stroke-linejoin="round" stroke-linecap="round" />
<path d="M48.1 344.9 L64 355.5" fill="none" stroke="#000" stroke-width="4.2" stroke-linejoin="round" stroke-linecap="round" />
<path d="M50.3 346.8 L62.7 354.9" fill="none" stroke="#fff" stroke-width="1.2" stroke-linejoin="round" stroke-linecap="round" stroke-dasharray="2 2" />
<path d="M47.7 344.5 L50.3 346.4" fill="none" stroke="#000" stroke-width="1.9" stroke-linejoin="round" stroke-linecap="round" />
<path d="M41.2 360.0 L57.0 361.9" fill="none" stroke="#000" stroke-width="6.6" stroke-linejoin="round" stroke-linecap="round" />
<path d="M41.2 360.0 L57.0 361.9" fill="none" stroke="#fff" stroke-width="3.7" stroke-linejoin="round" stroke-linecap="round" />
<path d="M48.4 358.1 L48.8 363.1" fill="none" stroke="#000" stroke-width="1.2" stroke-linejoin="round" stroke-linecap="round" />
<path d="M64 355.5 C65.2 356.5 67.8 359.3 71.2 361.5 C74.6 363.8 79.1 366.6 84.5 368.7 C89.8 370.9 99 372.7 103.4 374.4 C107.8 376.1 109.4 377 111 379 C112.6 381 112.9 385.3 113.3 386.6" fill="none" stroke="#000" stroke-width="2.2" stroke-linejoin="round" stroke-linecap="round" />
<path d="M57.9 361.9 C59.8 362.2 64.9 361.9 69.3 363.4 C73.6 365 78.7 368.7 84.1 371 C89.4 373.3 97.5 375.3 101.5 377.1 C105.5 378.8 106.9 379.6 108.2 381.4 C109.4 383.3 108.9 387 109.1 388.1" fill="none" stroke="#000" stroke-width="2.2" stroke-linejoin="round" stroke-linecap="round" />
<path d="M83.5 367.6 L93 371 L91.7 373.9 L82.6 370.3Z" fill="#fff" stroke="#000" stroke-width="1.5" stroke-linejoin="round" stroke-linecap="round" />
<path d="M104.4 375.8 C105.2 376.9 108.2 380.2 109.1 382.4 C110 384.6 109.9 387.9 110 389" fill="none" stroke="#000" stroke-width="1.4" stroke-linejoin="round" stroke-linecap="round" />
<path d="M101.5 384.7 C103.6 383.2 106.9 382.5 109.1 382.8 C111.3 383 113.9 384.7 114.8 386.2 C115.7 387.7 114.7 390 114.4 391.9 C114.1 393.8 113.4 395.6 112.9 397.6 C112.4 399.5 112.6 402.3 111.4 403.6 C110.1 405 107.4 405.6 105.3 405.5 C103.2 405.5 100.2 404.4 98.7 403.2 C97.2 402.1 96.5 400.4 96.2 398.5 C95.9 396.6 95.9 394.2 96.8 391.9 C97.7 389.6 99.5 386.2 101.5 384.7Z" fill="#fff" stroke="#000" stroke-width="1.9" stroke-linejoin="round" stroke-linecap="round" />
<path d="M96.8 391.9 L105.3 395.3 L113.8 391.9" fill="none" stroke="#000" stroke-width="2.8" stroke-linejoin="round" stroke-linecap="round" />
<path d="M96.2 398.5 L104.4 401.4 L111.9 399.1" fill="none" stroke="#000" stroke-width="2.6" stroke-linejoin="round" stroke-linecap="round" />
<path d="M103.4 385.2 L104.4 394.7" fill="none" stroke="#000" stroke-width="3" stroke-linejoin="round" stroke-linecap="round" />
<path d="M109.1 383.9 L109.5 394.1" fill="none" stroke="#000" stroke-width="1.9" stroke-linejoin="round" stroke-linecap="round" />
<path d="M99.6 400.4 L100.6 403.6" fill="none" stroke="#000" stroke-width="1.6" stroke-linejoin="round" stroke-linecap="round" />
<path d="M107.6 401.4 L107.6 404.8" fill="none" stroke="#000" stroke-width="1.6" stroke-linejoin="round" stroke-linecap="round" />
<ellipse cx="96.2" cy="418" rx="4.2" ry="4.8" fill="#fff" stroke="#000" stroke-width="1.8" transform="rotate(15 96.2 418)"/>
<path d="M95.5 413.1 L96.6 409.3 L101.1 410.5 L99.6 414.6" fill="#fff" stroke="#000" stroke-width="1.6" stroke-linejoin="round" stroke-linecap="round" />
<path d="M95.5 416.5 L97.3 419.4" fill="none" stroke="#000" stroke-width="1.1" stroke-linejoin="round" stroke-linecap="round" />
<path d="M66.4 424.9 L83.5 426.4 L88.2 424.9 L95.8 430.2 L99.6 436.2 L103.4 433 L108.2 439.6 L109.1 454.8 L103.8 457.8 L98.7 452.9 L97.7 443.8 L86.4 445.7 L82.6 441.9 L73.1 441.9 L62.7 438.1Z" fill="#fff" stroke="#000" stroke-width="2" stroke-linejoin="round" stroke-linecap="round" />
<path d="M73.1 426.8 L72.1 441.5" fill="none" stroke="#000" stroke-width="1.6" stroke-linejoin="round" stroke-linecap="round" />
<path d="M76.9 428.3 L76.1 439.6 L82.6 441.5" fill="none" stroke="#000" stroke-width="1.4" stroke-linejoin="round" stroke-linecap="round" />
<path d="M80.7 429.2 L94.9 431.7 L96.8 443.1 L86.4 445 L81.6 440.6Z" fill="#111" stroke="#000" stroke-width="1.2" stroke-linejoin="round" stroke-linecap="round" />
<path d="M83.5 433 L91.1 434 L91.7 438.7 L85.4 439.3Z" fill="#fff" stroke="#000" stroke-width="0.9" stroke-linejoin="round" stroke-linecap="round" />
<ellipse cx="68.9" cy="431.1" rx="1.6" ry="2" fill="none" stroke="#000" stroke-width="1.2" transform="rotate(0 68.9 431.1)"/>
<ellipse cx="67" cy="435.5" rx="1.6" ry="2" fill="none" stroke="#000" stroke-width="1.2" transform="rotate(0 67 435.5)"/>
<ellipse cx="103.4" cy="443.4" rx="1.6" ry="2.2" fill="none" stroke="#000" stroke-width="1.2" transform="rotate(0 103.4 443.4)"/>
<ellipse cx="104.4" cy="451" rx="1.6" ry="2.2" fill="none" stroke="#000" stroke-width="1.2" transform="rotate(0 104.4 451)"/>
<path d="M99.6 436.2 L100 452.9" fill="none" stroke="#000" stroke-width="1.5" stroke-linejoin="round" stroke-linecap="round" />
<ellipse cx="80.7" cy="455.2" rx="11.6" ry="4.8" fill="#fff" stroke="#000" stroke-width="2" transform="rotate(22 80.7 455.2)"/>
<clipPath id="c9"><path d="M88.3 458.3 L87.8 458.8 L86.8 459.1 L85.4 459.1 L83.6 458.8 L81.7 458.3 L79.7 457.6 L77.8 456.7 L76 455.7 L74.6 454.7 L73.6 453.7 L73.1 452.8 L73.1 452.1 L73.6 451.6 L74.6 451.3 L76 451.3 L77.7 451.6 L79.6 452.1 L81.6 452.8 L83.6 453.7 L85.3 454.6 L86.7 455.7 L87.7 456.6 L88.3 457.5Z"/></clipPath>
<g clip-path="url(#c9)" stroke="#000" stroke-width="0.9" fill="none"><path d="M74.8 441.5L94.4 449.4M74.2 443L93.8 450.9M73.6 444.4L93.2 452.3M73 445.9L92.6 453.8M72.4 447.4L92 455.3M71.8 448.9L91.4 456.8M71.2 450.4L90.8 458.3M70.6 451.9L90.2 459.8M70 453.3L89.6 461.2M69.4 454.8L89 462.7M68.8 456.3L88.4 464.2M68.2 457.8L87.8 465.7M67.7 459.3L87.2 467.2M67.1 460.8L86.6 468.7M94.4 449.4L86.5 468.9M92.3 448.5L84.4 468.1M90.3 447.7L82.4 467.3M88.3 446.9L80.4 466.4M86.2 446.1L78.3 465.6M84.2 445.2L76.3 464.8M82.1 444.4L74.2 464M80.1 443.6L72.2 463.1M78.1 442.8L70.2 462.3M76 442L68.1 461.5"/></g>
<path d="M88.3 458.3 L87.8 458.8 L86.8 459.1 L85.4 459.1 L83.6 458.8 L81.7 458.3 L79.7 457.6 L77.8 456.7 L76 455.7 L74.6 454.7 L73.6 453.7 L73.1 452.8 L73.1 452.1 L73.6 451.6 L74.6 451.3 L76 451.3 L77.7 451.6 L79.6 452.1 L81.6 452.8 L83.6 453.7 L85.3 454.6 L86.7 455.7 L87.7 456.6 L88.3 457.5Z" fill="none" stroke="#000" stroke-width="1.2" stroke-linejoin="round" stroke-linecap="round" />
<path d="M57.9 474.1 C58.5 472.7 59.6 470.4 62.1 470 C64.6 469.5 70 470.4 73.1 471.5 C76.1 472.6 78.3 475 80.3 476.6 C82.2 478.3 84.4 479.7 84.8 481.4 C85.3 483 83.9 485.5 82.9 486.7 C82 487.8 81.4 487.6 79.1 488.2 C76.9 488.7 72.6 490.5 69.7 490.1 C66.7 489.6 63.2 487.4 61.3 485.5 C59.5 483.6 59.2 480.4 58.7 478.5 C58.1 476.6 57.3 475.6 57.9 474.1Z" fill="#fff" stroke="#000" stroke-width="2" stroke-linejoin="round" stroke-linecap="round" />
<path d="M59.1 475.3 C60.4 475.4 64.4 475.1 67.4 476 C70.4 477 74.3 479.4 76.9 481 C79.4 482.6 81.6 484.8 82.6 485.5" fill="none" stroke="#000" stroke-width="1.3" stroke-linejoin="round" stroke-linecap="round" />
<path d="M60.8 472.8 C62.2 473 66.7 472.7 69.7 473.8 C72.7 474.8 76.4 477.6 78.8 479.1 C81.1 480.6 82.9 482.2 83.7 482.9" fill="none" stroke="#000" stroke-width="1.1" stroke-linejoin="round" stroke-linecap="round" />
<path d="M73.8 499.9 L76.5 492.3" fill="none" stroke="#000" stroke-width="3.5" stroke-linejoin="round" stroke-linecap="round" />
<path d="M74.2 499.4 L76.3 493.1" fill="none" stroke="#fff" stroke-width="1.1" stroke-linejoin="round" stroke-linecap="round" stroke-dasharray="1.2 1.5" />
<ellipse cx="73.1" cy="501.6" rx="3.5" ry="3.3" fill="#fff" stroke="#000" stroke-width="1.9" transform="rotate(0 73.1 501.6)"/>
<ellipse cx="72.9" cy="501.8" rx="1.3" ry="1.3" fill="#222" stroke="#000" stroke-width="0.9" transform="rotate(0 72.9 501.8)"/>
<path d="M594.1 377.4 L595.3 373.0 L600.3 372.0 L683.1 411.5 L697.9 419.0 L697.2 420.0 L732.6 438.7 L739.8 449.1 L747.1 488.6 L743.4 498.9 L735.9 500.2 L722.2 492.7 L720.1 482.3 L594.1 407.1Z" fill="#fff" stroke="#000" stroke-width="1.9" stroke-linejoin="round" stroke-linecap="round" />
<path d="M734.2 442.4 L737.8 450.1 L744.6 488.1 L741.3 496.4 L735.9 497.3" fill="none" stroke="#000" stroke-width="0.9" stroke-linejoin="round" stroke-linecap="round" />
<path d="M603.5 399.2 C603.8 398.8 605.4 395.5 606.9 395.2 C608.5 395 616.9 396.1 618.8 396.7 C620.7 397.3 625.5 401.2 626.2 401.7 L628.7 407.6 L645.5 415.0 L646.5 425.9" fill="none" stroke="#000" stroke-width="1.5" stroke-linejoin="round" stroke-linecap="round" />
<path d="M652.2 427.4 C652.6 426.9 654.7 422.9 655.9 422.4 C657.1 422 663.7 422.9 664.5 422.9 L683.1 431.8 L693.1 437.7 L697.2 436.6 L713.9 449.1 L718.0 455.3 L734.6 459.5 L734.6 468.2 L728.8 469.9 L727.6 475.3 L722.2 473.6 L716.4 471.9" fill="none" stroke="#000" stroke-width="1.5" stroke-linejoin="round" stroke-linecap="round" />
<path d="M652.2 427.4 L653.4 431.8" fill="none" stroke="#000" stroke-width="1.4" stroke-linejoin="round" stroke-linecap="round" />
<ellipse cx="604" cy="388.5" rx="2.3" ry="2.8" fill="#111" stroke="#000" stroke-width="1.2" transform="rotate(0 604 388.5)"/>
<ellipse cx="648" cy="408.3" rx="2.3" ry="2.8" fill="#111" stroke="#000" stroke-width="1.2" transform="rotate(0 648 408.3)"/>
<ellipse cx="719.7" cy="441.8" rx="2.2" ry="2.8" fill="#111" stroke="#000" stroke-width="1.2" transform="rotate(0 719.7 441.8)"/>
<ellipse cx="719.7" cy="481.3" rx="2.2" ry="2.8" fill="#111" stroke="#000" stroke-width="1.2" transform="rotate(0 719.7 481.3)"/>
<path d="M713.9 474.4 L722.2 477.7" fill="none" stroke="#000" stroke-width="1.4" stroke-linejoin="round" stroke-linecap="round" />
<path d="M553.4 385.4 L543.0 391.0 L534.5 398.5 L531.8 404.0 L531.6 468.0 L533.4 473.1 L610.0 507.2 L640.0 520.5 L655.0 526.0 L672.3 529.0 L700.0 528.0 L717.0 524.9 L721.5 518.5 L720.1 509.3 L713.9 482.3 L707.6 461.5 L704.5 454.9 L699.3 451.2 L683.1 451.2 L676.5 446.6 L647.8 434.1 L637.4 427.5Z" fill="#fff" stroke="#000" stroke-width="2.2" stroke-linejoin="round" stroke-linecap="round" />
<path d="M532 404 L531.8 468" fill="none" stroke="#000" stroke-width="3" stroke-linejoin="round" stroke-linecap="round" />
<path d="M637.4 427.5 L632.4 436.6 L630.8 441.6 L636.6 445.8 L653.6 454.9" fill="none" stroke="#000" stroke-width="1.8" stroke-linejoin="round" stroke-linecap="round" />
<path d="M632.4 436.6 L641.2 442 L656.7 435.4" fill="none" stroke="#000" stroke-width="1.3" stroke-linejoin="round" stroke-linecap="round" />
<path d="M641.2 442 L643.2 449.1" fill="none" stroke="#000" stroke-width="1.2" stroke-linejoin="round" stroke-linecap="round" />
<path d="M659.9 454.5 L676.5 449.5 L683.7 451.6" fill="none" stroke="#000" stroke-width="1.2" stroke-linejoin="round" stroke-linecap="round" />
<path d="M658.2 456.1 L679.6 453.2" fill="none" stroke="#000" stroke-width="2.8" stroke-linejoin="round" stroke-linecap="round" />
<path d="M654.7 457 L697.2 451.6" fill="none" stroke="#000" stroke-width="1.2" stroke-linejoin="round" stroke-linecap="round" />
<path d="M534.5 398.7 L610.0 432.5 L610 432.5 C613.5 434.2 625 439.5 630.8 442.8 C636.6 446.1 641 450.1 645 452.5 C649 454.9 651.2 456.2 655 457.2 C658.8 458.1 660.6 459.2 668 458.2 C675.4 457.2 694.1 452.4 699.3 451.2" fill="none" stroke="#000" stroke-width="2.5" stroke-linejoin="round" stroke-linecap="round" />
<path d="M532.0 403.6 L610.0 438.7 L610 438.7 C615 441.3 632.5 450.7 640 454.5 C647.5 458.3 649.6 460 655 461.5 C660.4 463 663.5 463.8 672.3 463.6 C681.1 463.4 701.7 461 707.6 460.5" fill="none" stroke="#000" stroke-width="1.9" stroke-linejoin="round" stroke-linecap="round" />
<path d="M532.0 408.2 L610.0 443.0 L610 443 C615 445.6 632.5 454.8 640 458.5 C647.5 462.2 649.6 463.6 655 465 C660.4 466.4 664 466.9 672.3 466.8 C680.6 466.7 699.5 464.9 705 464.5" fill="none" stroke="#000" stroke-width="1" stroke-linejoin="round" stroke-linecap="round" />
<path d="M532.0 412.6 L610.0 447.0 L610 447 C615 449.4 632.5 458 640 461.5 C647.5 465 649.6 466.4 655 467.8 C660.4 469.2 664.2 469.7 672.3 469.9 C680.4 470.1 698.3 469 703.5 468.8" fill="none" stroke="#000" stroke-width="1.9" stroke-linejoin="round" stroke-linecap="round" />
<path d="M532.0 418.8 L610.0 453.2 L610 453.2 C614.7 455.6 630.5 464 638 467.5 C645.5 471 649.3 472.6 655 474 C660.7 475.4 663.9 475.9 672.3 476.1 C680.7 476.3 700 475.2 705.6 475" fill="none" stroke="#000" stroke-width="1.5" stroke-linejoin="round" stroke-linecap="round" />
<path d="M532.0 425.5 L610.0 460.5 L610 460.5 C614.7 462.8 630.5 471.2 638 474.5 C645.5 477.8 649.3 479.2 655 480.5 C660.7 481.8 663.7 482.2 672.3 482.3 C680.9 482.4 700.9 481.5 706.6 481.3" fill="none" stroke="#000" stroke-width="1.5" stroke-linejoin="round" stroke-linecap="round" />
<path d="M532.0 430.0 L610.0 464.8 L610 464.8 C615 467.2 632.5 476.2 640 479.5 C647.5 482.8 649.6 483.5 655 484.6 C660.4 485.7 663.5 486.1 672.3 486 C681 485.9 701.6 484.3 707.5 484" fill="none" stroke="#000" stroke-width="1" stroke-linejoin="round" stroke-linecap="round" />
<path d="M532.0 434.5 L610.0 468.8 L610 468.8 C615 471.1 632.5 479.3 640 482.5 C647.5 485.7 649.6 486.8 655 488 C660.4 489.2 663.3 489.9 672.3 489.6 C681.2 489.4 702.6 487 708.7 486.5" fill="none" stroke="#000" stroke-width="1.6" stroke-linejoin="round" stroke-linecap="round" />
<path d="M532.0 457.0 L610.0 492.0 L610 492 C615 494.2 632.5 502.3 640 505.5 C647.5 508.7 649.6 509.7 655 511 C660.4 512.3 662.8 513.8 672.3 513.5 C681.8 513.2 705.4 510.2 712 509.5" fill="none" stroke="#000" stroke-width="1.3" stroke-linejoin="round" stroke-linecap="round" />
<path d="M532.0 462.0 L610.0 497.0 L610 497 C615 499.2 632.5 507.3 640 510.5 C647.5 513.7 649.6 514.6 655 516 C660.4 517.4 662.5 518.8 672.3 518.6 C682.1 518.4 707 515.4 714 514.7" fill="none" stroke="#000" stroke-width="1.5" stroke-linejoin="round" stroke-linecap="round" />
<path d="M533.0 468.0 L610.0 502.5 L610 502.5 C615 504.8 632.5 512.8 640 516 C647.5 519.2 649.6 520.1 655 521.5 C660.4 522.9 662.1 524.4 672.3 524.2 C682.5 524 708.7 520.9 716 520.3" fill="none" stroke="#000" stroke-width="1.6" stroke-linejoin="round" stroke-linecap="round" />
<clipPath id="c10"><path d="M531.8 435.8 L563 453 L563 455.5 L566.7 457.2 L566 462 L563.4 463 L563.4 469.5 L531.8 462.4Z"/></clipPath>
<g clip-path="url(#c10)" stroke="#000" stroke-width="1.4" fill="none"><path d="M536.9 417.6L584.3 440.3M535.5 420.4L582.9 443.1M534.2 423.2L581.6 445.9M532.9 426L580.2 448.6M531.5 428.8L578.9 451.4M530.2 431.6L577.6 454.2M528.8 434.4L576.2 457M527.5 437.2L574.9 459.8M526.2 440L573.6 462.6M524.8 442.8L572.2 465.4M523.5 445.6L570.9 468.2M522.2 448.4L569.6 471M520.8 451.2L568.2 473.8M519.5 454L566.9 476.6M518.2 456.8L565.6 479.4M516.8 459.6L564.2 482.2M515.5 462.4L562.9 485M575.5 426.4L575.5 478.9M572.1 426.4L572.1 478.9M568.7 426.4L568.7 478.9M565.3 426.4L565.3 478.9M561.9 426.4L561.9 478.9M558.5 426.4L558.5 478.9M555.1 426.4L555.1 478.9M551.7 426.4L551.7 478.9M548.3 426.4L548.3 478.9M544.9 426.4L544.9 478.9M541.5 426.4L541.5 478.9M538.1 426.4L538.1 478.9M534.7 426.4L534.7 478.9M531.3 426.4L531.3 478.9M527.9 426.4L527.9 478.9M524.5 426.4L524.5 478.9"/></g>
<path d="M533.5 404 L533.5 412" fill="none" stroke="#000" stroke-width="1.1" stroke-linejoin="round" stroke-linecap="round" />
<path d="M535.7 404 L535.7 412" fill="none" stroke="#000" stroke-width="1.1" stroke-linejoin="round" stroke-linecap="round" />
<path d="M537.9 404 L537.9 412" fill="none" stroke="#000" stroke-width="1.1" stroke-linejoin="round" stroke-linecap="round" />
<path d="M534 417 L534 430" fill="none" stroke="#000" stroke-width="2.3" stroke-linejoin="round" stroke-linecap="round" />
<path d="M583.7 465.2 L623.7 481.3 L623.7 498.6 L583.7 483.7Z" fill="#fff" stroke="#000" stroke-width="1.3" stroke-linejoin="round" stroke-linecap="round" />
<clipPath id="c11"><path d="M584.5 470 L593 473.5 L593 479 L596 480.5 L596 487.5 L584.5 483Z"/></clipPath>
<g clip-path="url(#c11)" stroke="#000" stroke-width="1.1" fill="none"><path d="M583.4 462.5L606.5 471.9M582.4 464.9L605.5 474.3M581.4 467.3L604.5 476.7M580.4 469.7L603.6 479.1M579.5 472.2L602.6 481.5M578.5 474.6L601.6 483.9M577.5 477L600.6 486.3M576.5 479.4L599.7 488.7M575.6 481.8L598.7 491.1M574.6 484.2L597.7 493.6M602.7 466.3L602.7 491.2M599.9 466.3L599.9 491.2M597.1 466.3L597.1 491.2M594.3 466.3L594.3 491.2M591.5 466.3L591.5 491.2M588.7 466.3L588.7 491.2M585.9 466.3L585.9 491.2M583.1 466.3L583.1 491.2M580.3 466.3L580.3 491.2"/></g>
<clipPath id="c12"><path d="M603 476 L623 484 L623 497 L611 492.5 L611 486 L603 482.8Z"/></clipPath>
<g clip-path="url(#c12)" stroke="#000" stroke-width="1.1" fill="none"><path d="M603.9 465L634.5 477.4M602.9 467.4L633.5 479.8M601.9 469.8L632.5 482.2M601 472.3L631.6 484.6M600 474.7L630.6 487M599 477.1L629.6 489.4M598 479.5L628.6 491.8M597.1 481.9L627.7 494.3M596.1 484.3L626.7 496.7M595.1 486.7L625.7 499.1M594.1 489.1L624.7 501.5M593.2 491.5L623.8 503.9M592.2 493.9L622.8 506.3M629.5 470L629.5 503M626.7 470L626.7 503M623.9 470L623.9 503M621.1 470L621.1 503M618.3 470L618.3 503M615.5 470L615.5 503M612.7 470L612.7 503M609.9 470L609.9 503M607.1 470L607.1 503M604.3 470L604.3 503M601.5 470L601.5 503M598.7 470L598.7 503"/></g>
<clipPath id="c13"><path d="M690 468.6 L702.4 467.8 L702.9 471.5 L690 471.9Z"/></clipPath>
<g clip-path="url(#c13)" stroke="#000" stroke-width="0.9" fill="none"><path d="M705.2 461.1L705.2 478.6M703.4 461.1L703.4 478.6M701.6 461.1L701.6 478.6M699.8 461.1L699.8 478.6M698 461.1L698 478.6M696.2 461.1L696.2 478.6M694.4 461.1L694.4 478.6M692.6 461.1L692.6 478.6M690.8 461.1L690.8 478.6M689 461.1L689 478.6M686.9 461.9L704.4 460.4M687.1 464.3L704.6 462.7M687.3 466.7L704.8 465.1M687.5 469.1L705 467.5M687.8 471.4L705.2 469.9M688 473.8L705.4 472.3M688.2 476.2L705.6 474.7M688.4 478.6L705.8 477.1"/></g>
<clipPath id="c14"><path d="M690 473.8 L703.5 473 L703.9 476.1 L690 476.5Z"/></clipPath>
<g clip-path="url(#c14)" stroke="#000" stroke-width="0.9" fill="none"><path d="M706.1 465.6L706.1 483.9M704.3 465.6L704.3 483.9M702.5 465.6L702.5 483.9M700.7 465.6L700.7 483.9M698.9 465.6L698.9 483.9M697.1 465.6L697.1 483.9M695.3 465.6L695.3 483.9M693.5 465.6L693.5 483.9M691.7 465.6L691.7 483.9M689.9 465.6L689.9 483.9M688.1 465.6L688.1 483.9M687 466.4L705.3 464.8M687.2 468.8L705.5 467.2M687.4 471.2L705.7 469.6M687.6 473.6L705.9 472M687.8 476L706.1 474.4M688 478.3L706.3 476.7M688.2 480.7L706.5 479.1M688.5 483.1L706.7 481.5"/></g>
<clipPath id="c15"><path d="M691.4 480 L704.5 479.2 L704.9 482.3 L691.4 482.7Z"/></clipPath>
<g clip-path="url(#c15)" stroke="#000" stroke-width="0.9" fill="none"><path d="M707.2 472L707.2 489.9M705.4 472L705.4 489.9M703.6 472L703.6 489.9M701.8 472L701.8 489.9M700 472L700 489.9M698.2 472L698.2 489.9M696.4 472L696.4 489.9M694.6 472L694.6 489.9M692.8 472L692.8 489.9M691 472L691 489.9M688.5 472.8L706.3 471.2M688.7 475.2L706.6 473.6M688.9 477.6L706.8 476M689.1 480L707 478.4M689.3 482.4L707.2 480.8M689.5 484.8L707.4 483.2M689.7 487.2L707.6 485.6M689.9 489.5L707.8 488"/></g>
<clipPath id="c16"><path d="M690 485.2 L705.6 484.4 L706 488.1 L690 488.6Z"/></clipPath>
<g clip-path="url(#c16)" stroke="#000" stroke-width="0.9" fill="none"><path d="M708.2 476.2L708.2 496.7M706.4 476.2L706.4 496.7M704.6 476.2L704.6 496.7M702.8 476.2L702.8 496.7M701 476.2L701 496.7M699.2 476.2L699.2 496.7M697.4 476.2L697.4 496.7M695.6 476.2L695.6 496.7M693.8 476.2L693.8 496.7M692 476.2L692 496.7M690.2 476.2L690.2 496.7M688.4 476.2L688.4 496.7M686.9 477.1L707.3 475.4M687.1 479.5L707.5 477.7M687.3 481.9L707.7 480.1M687.5 484.3L707.9 482.5M687.7 486.7L708.1 484.9M687.9 489.1L708.3 487.3M688.1 491.5L708.6 489.7M688.3 493.9L708.8 492.1M688.5 496.3L709 494.5"/></g>
<path d="M694.1 492.5 L714.5 490.4" fill="none" stroke="#000" stroke-width="0.7" stroke-linejoin="round" stroke-linecap="round" />
<path d="M694.2 495.3 L715.1 493.2" fill="none" stroke="#000" stroke-width="0.7" stroke-linejoin="round" stroke-linecap="round" />
<path d="M694.3 498.1 L715.7 496" fill="none" stroke="#000" stroke-width="0.7" stroke-linejoin="round" stroke-linecap="round" />
<path d="M694.4 500.9 L716.4 498.8" fill="none" stroke="#000" stroke-width="0.7" stroke-linejoin="round" stroke-linecap="round" />
<path d="M694.5 503.7 L717 501.6" fill="none" stroke="#000" stroke-width="0.7" stroke-linejoin="round" stroke-linecap="round" />
<path d="M694.6 506.5 L717.6 504.4" fill="none" stroke="#000" stroke-width="0.7" stroke-linejoin="round" stroke-linecap="round" />
<path d="M694.8 509.3 L718.2 507.2" fill="none" stroke="#000" stroke-width="0.7" stroke-linejoin="round" stroke-linecap="round" />
<path d="M694.9 512.1 L718.8 510" fill="none" stroke="#000" stroke-width="0.7" stroke-linejoin="round" stroke-linecap="round" />
<path d="M695 514.9 L719.5 512.9" fill="none" stroke="#000" stroke-width="0.7" stroke-linejoin="round" stroke-linecap="round" />
<path d="M695.1 517.7 L720.1 515.7" fill="none" stroke="#000" stroke-width="0.7" stroke-linejoin="round" stroke-linecap="round" />
<path d="M704.5 453.2 C705.5 454.6 708.2 456.3 710.1 461.1 C712.1 466 714.2 474.2 716.4 482.3 C718.5 490.4 722 503.2 723.2 509.7 C724.5 516.3 724.4 518.8 723.8 521.8 C723.3 524.8 720.7 526.6 720.1 527.6" fill="none" stroke="#000" stroke-width="1.2" stroke-linejoin="round" stroke-linecap="round" />
<path d="M717.6 474.4 L721.8 475.7" fill="none" stroke="#000" stroke-width="3" stroke-linejoin="round" stroke-linecap="round" />
<path d="M718 481.9 L722.2 482.7" fill="none" stroke="#000" stroke-width="3" stroke-linejoin="round" stroke-linecap="round" />
<path d="M806 281.2 C806.2 280.5 807.1 277 808.1 275.8 C809.1 274.7 812.8 273 813.5 272.6 L886.6 302.9 L893.4 305.6 L896.1 313.7 L939.4 334.0 L943.5 330.0 L951.6 330.0 L965.1 338.1 L965.7 397.6 L962.4 402.0 L957.0 404.4 L946.2 400.4 Q807.0 339.4 806.5 334.0Z" fill="#fff" stroke="#000" stroke-width="2" stroke-linejoin="round" stroke-linecap="round" />
<path d="M810.8 283.9 C811 283.3 811.7 279.9 812.5 279.1 C813.2 278.2 816.2 277.7 816.8 277.5 L884.5 306.7 L890.1 309.1 L892.9 317.5 L938.1 338.1 L942.9 334.3 L949.4 334.3" fill="none" stroke="#000" stroke-width="1.4" stroke-linejoin="round" stroke-linecap="round" />
<path d="M810.8 283.9 L810.8 332.7 L815.2 338.1 L947.5 396.6 L955.7 399.3" fill="none" stroke="#000" stroke-width="1.4" stroke-linejoin="round" stroke-linecap="round" />
<path d="M948.3 339.7 L957 338.1 L958.6 395.5 L952.1 398.2" fill="none" stroke="#000" stroke-width="1.5" stroke-linejoin="round" stroke-linecap="round" />
<path d="M948.3 339.7 L949.4 346.2 L954.8 345.1 L955.9 394.9" fill="none" stroke="#000" stroke-width="1.1" stroke-linejoin="round" stroke-linecap="round" />
<path d="M958.6 359.7 L968.9 364.1 L969.5 386.8 L959.7 390.1" fill="#fff" stroke="#000" stroke-width="1.9" stroke-linejoin="round" stroke-linecap="round" />
<path d="M962.4 364.6 L963 386.3" fill="none" stroke="#000" stroke-width="1.2" stroke-linejoin="round" stroke-linecap="round" />
<path d="M965.7 365.7 L966.2 385.7" fill="none" stroke="#000" stroke-width="2.3" stroke-linejoin="round" stroke-linecap="round" />
<path d="M951.6 330 L962.4 335.9 L963.5 346.2 L958.6 346.2" fill="none" stroke="#000" stroke-width="1.3" stroke-linejoin="round" stroke-linecap="round" />
<path d="M958.6 392.2 L964 391.7 L964.6 398.2" fill="none" stroke="#000" stroke-width="1.3" stroke-linejoin="round" stroke-linecap="round" />
<path d="M828.2 293.9 L836.1 292.8 L844.5 297.7 L845.2 309.4 L837.7 312.3 L836.6 306.7Z" fill="#fff" stroke="#000" stroke-width="2" stroke-linejoin="round" stroke-linecap="round" />
<path d="M837 298.5 L844.5 297.7" fill="none" stroke="#000" stroke-width="1.3" stroke-linejoin="round" stroke-linecap="round" />
<path d="M837 298.5 L837.7 312.1" fill="none" stroke="#000" stroke-width="1.5" stroke-linejoin="round" stroke-linecap="round" />
<path d="M828.2 293.9 L837 298.5" fill="none" stroke="#000" stroke-width="1.3" stroke-linejoin="round" stroke-linecap="round" />
<path d="M820.8 307.5 L824.5 303.9 L829.9 305.3 L835.8 306.7 L836.6 311.5 L828.5 313 L820.8 310.2Z" fill="#fff" stroke="#000" stroke-width="2" stroke-linejoin="round" stroke-linecap="round" />
<path d="M824.5 303.9 L825.5 301.2 L828.9 298.5 L833.7 299.6 L835.8 306.7" fill="none" stroke="#000" stroke-width="1.8" stroke-linejoin="round" stroke-linecap="round" />
<path d="M821.5 308.8 L828.2 310.4 L836.1 309.1" fill="none" stroke="#000" stroke-width="1.5" stroke-linejoin="round" stroke-linecap="round" />
<path d="M826.9 301.9 L832.3 302.9" fill="none" stroke="#000" stroke-width="2.8" stroke-linejoin="round" stroke-linecap="round" />
<path d="M820.1 321.5 L824.9 317.5 L833.7 318.2 L840.4 324.2 L841.1 337.1 L834.3 341.2 L817.4 329.7 L816.9 325.6Z" fill="#fff" stroke="#000" stroke-width="2" stroke-linejoin="round" stroke-linecap="round" />
<path d="M820.1 321.5 L826.9 324.5 L834.3 322.9 L840.4 324.2" fill="none" stroke="#000" stroke-width="1.5" stroke-linejoin="round" stroke-linecap="round" />
<path d="M834.3 322.9 L834.3 340.8" fill="none" stroke="#000" stroke-width="1.6" stroke-linejoin="round" stroke-linecap="round" />
<path d="M822.2 320.5 L824.9 318.6 L832.3 317.2 L830.9 320.5" fill="none" stroke="#000" stroke-width="2.6" stroke-linejoin="round" stroke-linecap="round" />
<path d="M821.5 328.3 L832.3 331 L832.3 338.5 L824.2 333.7Z" fill="#333" stroke="#000" stroke-width="1.2" stroke-linejoin="round" stroke-linecap="round" />
<path d="M825.5 330.3 L825.5 334.4" fill="none" stroke="#fff" stroke-width="1.2" stroke-linejoin="round" stroke-linecap="round" />
<path d="M828.9 331.3 L828.9 336.4" fill="none" stroke="#fff" stroke-width="1.2" stroke-linejoin="round" stroke-linecap="round" />
<path d="M851.2 322.4 L858.3 319.5 L867.5 322.2 L866.9 325.9 L859.6 326.4 L858.8 331.7 L866.1 332.6 L866.4 337.2 L858 338.6 L851.2 335.3Z" fill="#fff" stroke="#000" stroke-width="2" stroke-linejoin="round" stroke-linecap="round" />
<path d="M851.2 322.4 L859.4 324.5 L867.5 322.2" fill="none" stroke="#000" stroke-width="1.4" stroke-linejoin="round" stroke-linecap="round" />
<path d="M859.4 324.5 L859.6 326.4" fill="none" stroke="#000" stroke-width="1.3" stroke-linejoin="round" stroke-linecap="round" />
<path d="M854 329.7 L858.8 331.7" fill="none" stroke="#000" stroke-width="1.4" stroke-linejoin="round" stroke-linecap="round" />
<path d="M858 335.3 L866.1 334.5" fill="none" stroke="#000" stroke-width="1.9" stroke-linejoin="round" stroke-linecap="round" />
<path d="M877 337.2 L884 332.4 L892.7 336.4 L892.1 348.6 L884 353.5 L876.4 351.3 L876.4 344.8 L880.8 346.2 L881.3 343.2 L877 341.8Z" fill="#fff" stroke="#000" stroke-width="2" stroke-linejoin="round" stroke-linecap="round" />
<path d="M877 337.2 L885.1 340.8 L892.7 336.4" fill="none" stroke="#000" stroke-width="1.4" stroke-linejoin="round" stroke-linecap="round" />
<path d="M885.1 340.8 L884.3 353.2" fill="none" stroke="#000" stroke-width="1.5" stroke-linejoin="round" stroke-linecap="round" />
<path d="M877 341.8 L876.4 344.8" fill="none" stroke="#000" stroke-width="3" stroke-linejoin="round" stroke-linecap="round" />
<path d="M877.5 348.3 L880.2 351.6" fill="none" stroke="#000" stroke-width="2.6" stroke-linejoin="round" stroke-linecap="round" />
<path d="M921.3 342.3 L925.6 338.5 L934 340.4 L941.3 345.3 L941.8 356.9 L935.9 361.8 L932.6 360.5 L932.6 352.1 L925.6 350.7 L920.5 349.4Z" fill="#fff" stroke="#000" stroke-width="2" stroke-linejoin="round" stroke-linecap="round" />
<path d="M921.3 342.3 L929.7 345.3 L935.3 349.1 L941.3 345.3" fill="none" stroke="#000" stroke-width="1.4" stroke-linejoin="round" stroke-linecap="round" />
<path d="M935.3 349.1 L935.9 361.5" fill="none" stroke="#000" stroke-width="1.5" stroke-linejoin="round" stroke-linecap="round" />
<path d="M920.5 349.6 L925.6 351 L924.5 355.9 L919.6 356.4Z" fill="#fff" stroke="#000" stroke-width="1.9" stroke-linejoin="round" stroke-linecap="round" />
<path d="M925.6 351 L929.7 352.1 L930.7 357.5 L925.6 358.8" fill="none" stroke="#000" stroke-width="1.9" stroke-linejoin="round" stroke-linecap="round" />
<path d="M924.2 345.3 L928.3 346.9" fill="none" stroke="#000" stroke-width="3" stroke-linejoin="round" stroke-linecap="round" />
<path d="M919.5 356.4 L914.1 358.2" fill="none" stroke="#000" stroke-width="3.3" stroke-linejoin="round" stroke-linecap="round" />
<path d="M898.5 358.3 L903.9 354.8 L912.1 357.5 L913.7 362.4 L924.2 363.2 L925.6 375.1 L919.6 379.9 L897.2 370.5 L895.8 365.9Z" fill="#fff" stroke="#000" stroke-width="2" stroke-linejoin="round" stroke-linecap="round" />
<path d="M898.5 358.3 L905.3 361.5 L913.7 362.4" fill="none" stroke="#000" stroke-width="1.4" stroke-linejoin="round" stroke-linecap="round" />
<path d="M897.2 365.6 L917.5 369.7 L924.2 365.1" fill="none" stroke="#000" stroke-width="1.6" stroke-linejoin="round" stroke-linecap="round" />
<path d="M917.5 369.7 L919.5 379.4" fill="none" stroke="#000" stroke-width="1.5" stroke-linejoin="round" stroke-linecap="round" />
<path d="M902.6 356.8 L908 355.5 L911.4 358.2 L906.7 360.5" fill="none" stroke="#000" stroke-width="2.3" stroke-linejoin="round" stroke-linecap="round" />
<path d="M903.9 368 L916.8 371 L918.2 377.8 L905.3 372.4Z" fill="#333" stroke="#000" stroke-width="1.2" stroke-linejoin="round" stroke-linecap="round" />
<path d="M908 369.7 L908.7 372.6" fill="none" stroke="#fff" stroke-width="1.4" stroke-linejoin="round" stroke-linecap="round" />
<path d="M912.7 370.7 L913.7 375.3" fill="none" stroke="#fff" stroke-width="1.4" stroke-linejoin="round" stroke-linecap="round" />
<path d="M711.3 350 C713.5 348.8 720.5 345 724.6 343 C728.7 341 731.5 339.7 735.9 338.3 C740.3 336.8 748.4 334.9 751.1 334.5 C753.8 334 746.8 332.6 752 335.7 C757.3 338.7 774.1 346.7 782.4 352.7 C790.6 358.7 795.6 366.3 801.3 371.7 C807 377 812.8 380.8 816.5 384.9 C820.1 389 822.4 392.8 823.1 396.3 C823.8 399.8 822.4 402.8 820.6 405.8 C818.9 408.8 814 412.9 812.7 414.3" fill="none" stroke="#000" stroke-width="4.2" stroke-linejoin="round" stroke-linecap="round" />
<path d="M711.3 350 C713.5 348.8 720.5 345 724.6 343 C728.7 341 731.5 339.7 735.9 338.3 C740.3 336.8 748.4 334.9 751.1 334.5 C753.8 334 746.8 332.6 752 335.7 C757.3 338.7 774.1 346.7 782.4 352.7 C790.6 358.7 795.6 366.3 801.3 371.7 C807 377 812.8 380.8 816.5 384.9 C820.1 389 822.4 392.8 823.1 396.3 C823.8 399.8 822.4 402.8 820.6 405.8 C818.9 408.8 814 412.9 812.7 414.3" fill="none" stroke="#fff" stroke-width="1.2" stroke-linejoin="round" stroke-linecap="round" />
<path d="M711.3 350 C713.5 348.8 720.5 345 724.6 343 C728.7 341 731.5 339.7 735.9 338.3 C740.3 336.8 748.6 335.1 751.1 334.5" fill="none" stroke="#000" stroke-width="1.4" stroke-linejoin="round" stroke-linecap="round" stroke-dasharray="1.5 2.5" />
<path d="M782.4 354.2 C780.9 356.1 777.5 363 773.8 365.6 C770.2 368.3 762.8 369.4 760.6 370.2" fill="none" stroke="#000" stroke-width="4" stroke-linejoin="round" stroke-linecap="round" />
<path d="M782.4 354.2 C780.9 356.1 777.5 363 773.8 365.6 C770.2 368.3 762.8 369.4 760.6 370.2" fill="none" stroke="#fff" stroke-width="0.9" stroke-linejoin="round" stroke-linecap="round" />
<path d="M785.2 358.4 C784.8 360.6 783.7 367.4 782.7 371.7 C781.8 375.9 779.4 381.5 779.7 384 C780 386.5 782.9 386.4 784.6 386.8 C786.4 387.2 789.4 386.5 790.3 386.5" fill="none" stroke="#000" stroke-width="3.7" stroke-linejoin="round" stroke-linecap="round" />
<path d="M785.2 358.4 C784.8 360.6 783.7 367.4 782.7 371.7 C781.8 375.9 779.4 381.5 779.7 384 C780 386.5 782.9 386.4 784.6 386.8 C786.4 387.2 789.4 386.5 790.3 386.5" fill="none" stroke="#fff" stroke-width="1.1" stroke-linejoin="round" stroke-linecap="round" />
<path d="M779.5 353.7 L785.8 358.4" fill="none" stroke="#000" stroke-width="3.7" stroke-linejoin="round" stroke-linecap="round" />
<path d="M790.3 380.8 L795.2 376.4 L802.2 379.6 L802.8 386.5 L797.5 389.1 L790.9 387.2Z" fill="#fff" stroke="#000" stroke-width="1.9" stroke-linejoin="round" stroke-linecap="round" />
<path d="M795.2 376.4 L796 384 L802.8 386.5" fill="none" stroke="#000" stroke-width="1.3" stroke-linejoin="round" stroke-linecap="round" />
<path d="M796 384 L790.9 387.2" fill="none" stroke="#000" stroke-width="1.3" stroke-linejoin="round" stroke-linecap="round" />
<path d="M814.2 411.8 L816.8 413.3" fill="none" stroke="#000" stroke-width="1.4" stroke-linejoin="round" stroke-linecap="round" />
<path d="M815.5 410.1 L818.2 411.6" fill="none" stroke="#000" stroke-width="1.4" stroke-linejoin="round" stroke-linecap="round" />
<path d="M816.8 408.4 L819.5 409.9" fill="none" stroke="#000" stroke-width="1.4" stroke-linejoin="round" stroke-linecap="round" />
<path d="M818.2 406.7 L820.8 408.2" fill="none" stroke="#000" stroke-width="1.4" stroke-linejoin="round" stroke-linecap="round" />
<path d="M819.5 405 L822.1 406.5" fill="none" stroke="#000" stroke-width="1.4" stroke-linejoin="round" stroke-linecap="round" />
<path d="M667.2 374.4 L679 368.6 L684.9 377.7 L674.8 386.1" fill="#fff" stroke="#000" stroke-width="2" stroke-linejoin="round" stroke-linecap="round" />
<path d="M676.3 370.9 L681.7 379.2" fill="none" stroke="#000" stroke-width="1.4" stroke-linejoin="round" stroke-linecap="round" />
<ellipse cx="683.2" cy="372.3" rx="1.8" ry="5.2" fill="#333" stroke="#000" stroke-width="1.6" transform="rotate(-33 683.2 372.3)"/>
<ellipse cx="666" cy="383.5" rx="12.8" ry="10.6" fill="#fff" stroke="#000" stroke-width="2" transform="rotate(-33 666 383.5)"/>
<path d="M665.8 379.5 L660.6 383.4 L663.7 389.2 L669 385.4" fill="none" stroke="#000" stroke-width="1.3" stroke-linejoin="round" stroke-linecap="round" />
<path d="M662.7 382.1 L666.4 386.8" fill="none" stroke="#000" stroke-width="1.2" stroke-linejoin="round" stroke-linecap="round" />
<path d="M666.3 382.1 L669.1 380" fill="none" stroke="#000" stroke-width="1.2" stroke-linejoin="round" stroke-linecap="round" />
<path d="M667.7 384.2 L670.6 382.4" fill="none" stroke="#000" stroke-width="1.2" stroke-linejoin="round" stroke-linecap="round" />
<path d="M713.9 385.1 L726 380 L731.4 389.3 L720.9 397.2" fill="#fff" stroke="#000" stroke-width="2" stroke-linejoin="round" stroke-linecap="round" />
<path d="M723.2 382.1 L728.1 390.6" fill="none" stroke="#000" stroke-width="1.4" stroke-linejoin="round" stroke-linecap="round" />
<ellipse cx="730" cy="383.9" rx="1.8" ry="5.2" fill="#333" stroke="#000" stroke-width="1.6" transform="rotate(-30 730 383.9)"/>
<ellipse cx="712.2" cy="394.1" rx="12.8" ry="10.6" fill="#fff" stroke="#000" stroke-width="2" transform="rotate(-30 712.2 394.1)"/>
<path d="M712.2 390.1 L706.9 393.8 L709.7 399.7 L715.1 396.2" fill="none" stroke="#000" stroke-width="1.3" stroke-linejoin="round" stroke-linecap="round" />
<path d="M709 392.5 L712.4 397.5" fill="none" stroke="#000" stroke-width="1.2" stroke-linejoin="round" stroke-linecap="round" />
<path d="M712.6 392.8 L715.5 390.9" fill="none" stroke="#000" stroke-width="1.2" stroke-linejoin="round" stroke-linecap="round" />
<path d="M713.9 394.9 L716.9 393.3" fill="none" stroke="#000" stroke-width="1.2" stroke-linejoin="round" stroke-linecap="round" />
<path d="M758.1 439.1 L769.9 433.3 L775.8 442.4 L765.7 450.8" fill="#fff" stroke="#000" stroke-width="2" stroke-linejoin="round" stroke-linecap="round" />
<path d="M767.2 435.6 L772.6 443.9" fill="none" stroke="#000" stroke-width="1.4" stroke-linejoin="round" stroke-linecap="round" />
<ellipse cx="774.1" cy="437" rx="1.8" ry="5.2" fill="#333" stroke="#000" stroke-width="1.6" transform="rotate(-33 774.1 437)"/>
<ellipse cx="756.9" cy="448.2" rx="12.8" ry="10.6" fill="#fff" stroke="#000" stroke-width="2" transform="rotate(-33 756.9 448.2)"/>
<path d="M756.7 444.2 L751.5 448.1 L754.6 453.9 L759.9 450.1" fill="none" stroke="#000" stroke-width="1.3" stroke-linejoin="round" stroke-linecap="round" />
<path d="M753.6 446.8 L757.3 451.5" fill="none" stroke="#000" stroke-width="1.2" stroke-linejoin="round" stroke-linecap="round" />
<path d="M757.2 446.8 L760 444.7" fill="none" stroke="#000" stroke-width="1.2" stroke-linejoin="round" stroke-linecap="round" />
<path d="M758.6 448.9 L761.5 447.1" fill="none" stroke="#000" stroke-width="1.2" stroke-linejoin="round" stroke-linecap="round" />
<path d="M700.8 349.8 L706.7 348.1 L718.2 346 L719.8 348.8 L712.2 357.7 L708 362.4Z" fill="#000" stroke="#000" stroke-width="1.4" stroke-linejoin="round" stroke-linecap="round" />
<path d="M706 350.9 L712.8 348.7" fill="none" stroke="#fff" stroke-width="1.2" stroke-linejoin="round" stroke-linecap="round" />
<path d="M708 354.3 L713.5 351.9" fill="none" stroke="#fff" stroke-width="1.1" stroke-linejoin="round" stroke-linecap="round" />
<path d="M689.7 352.7 L698.1 347.3 L703.1 347.9 L710.6 360.9 L708.6 365.5 L700.2 370.9Z" fill="#fff" stroke="#000" stroke-width="2.8" stroke-linejoin="round" stroke-linecap="round" />
<path d="M698 348 L708 365.3" fill="none" stroke="#000" stroke-width="3" stroke-linejoin="round" stroke-linecap="round" />
<path d="M692.9 350.3 L695.7 355.1" fill="none" stroke="#000" stroke-width="3.3" stroke-linejoin="round" stroke-linecap="round" />
<path d="M701.6 363.2 L704.3 368" fill="none" stroke="#000" stroke-width="3.5" stroke-linejoin="round" stroke-linecap="round" />
<path d="M706.6 358 L709.1 362.3" fill="none" stroke="#000" stroke-width="2.3" stroke-linejoin="round" stroke-linecap="round" />
<ellipse cx="693" cy="362.4" rx="6.6" ry="12.2" fill="#fff" stroke="#000" stroke-width="3.3" transform="rotate(-30 693 362.4)"/>
<ellipse cx="693.7" cy="362.4" rx="4.3" ry="8.6" fill="#000" stroke="#000" stroke-width="1.4" transform="rotate(-30 693.7 362.4)"/>
<ellipse cx="694.9" cy="362.7" rx="1.7" ry="3.6" fill="#fff" stroke="#fff" stroke-width="0.7" transform="rotate(-30 694.9 362.7)"/>
<path d="M685.2 358.1 L687.8 354.4" fill="none" stroke="#000" stroke-width="2.1" stroke-linejoin="round" stroke-linecap="round" />
<path d="M687 361.2 L690.1 358.3" fill="none" stroke="#000" stroke-width="2.1" stroke-linejoin="round" stroke-linecap="round" />
<path d="M691.4 368.9 L695.6 367.8" fill="none" stroke="#000" stroke-width="2.1" stroke-linejoin="round" stroke-linecap="round" />
<path d="M693 371.6 L697.6 371.3" fill="none" stroke="#000" stroke-width="2.1" stroke-linejoin="round" stroke-linecap="round" />
<path d="M687.8 358.5 L689.1 353.7" fill="none" stroke="#fff" stroke-width="1.1" stroke-linejoin="round" stroke-linecap="round" />
<path d="M692 367.6 L696.1 369.8" fill="none" stroke="#fff" stroke-width="1.1" stroke-linejoin="round" stroke-linecap="round" />
<path d="M748.8 364.9 L754.8 363.5 L766.4 362 L767.9 364.8 L759.8 373.3 L755.4 377.8Z" fill="#000" stroke="#000" stroke-width="1.4" stroke-linejoin="round" stroke-linecap="round" />
<path d="M754 366.2 L760.9 364.3" fill="none" stroke="#fff" stroke-width="1.2" stroke-linejoin="round" stroke-linecap="round" />
<path d="M755.8 369.7 L761.4 367.6" fill="none" stroke="#fff" stroke-width="1.1" stroke-linejoin="round" stroke-linecap="round" />
<path d="M737.6 367.2 L746.3 362.2 L751.3 363.1 L758.1 376.4 L755.9 380.9 L747.2 385.9Z" fill="#fff" stroke="#000" stroke-width="2.8" stroke-linejoin="round" stroke-linecap="round" />
<path d="M746.1 362.9 L755.2 380.7" fill="none" stroke="#000" stroke-width="3" stroke-linejoin="round" stroke-linecap="round" />
<path d="M741 364.9 L743.5 369.8" fill="none" stroke="#000" stroke-width="3.3" stroke-linejoin="round" stroke-linecap="round" />
<path d="M748.9 378.3 L751.4 383.2" fill="none" stroke="#000" stroke-width="3.5" stroke-linejoin="round" stroke-linecap="round" />
<path d="M754.2 373.3 L756.5 377.8" fill="none" stroke="#000" stroke-width="2.3" stroke-linejoin="round" stroke-linecap="round" />
<ellipse cx="740.4" cy="377" rx="6.6" ry="12.2" fill="#fff" stroke="#000" stroke-width="3.3" transform="rotate(-27 740.4 377)"/>
<ellipse cx="741.1" cy="377" rx="4.3" ry="8.6" fill="#000" stroke="#000" stroke-width="1.4" transform="rotate(-27 741.1 377)"/>
<ellipse cx="742.3" cy="377.4" rx="1.7" ry="3.6" fill="#fff" stroke="#fff" stroke-width="0.7" transform="rotate(-27 742.3 377.4)"/>
<path d="M732.9 372.3 L735.6 368.8" fill="none" stroke="#000" stroke-width="2.1" stroke-linejoin="round" stroke-linecap="round" />
<path d="M734.5 375.5 L737.7 372.8" fill="none" stroke="#000" stroke-width="2.1" stroke-linejoin="round" stroke-linecap="round" />
<path d="M738.5 383.4 L742.7 382.6" fill="none" stroke="#000" stroke-width="2.1" stroke-linejoin="round" stroke-linecap="round" />
<path d="M739.9 386.2 L744.5 386.1" fill="none" stroke="#000" stroke-width="2.1" stroke-linejoin="round" stroke-linecap="round" />
<path d="M735.4 372.8 L737 368.1" fill="none" stroke="#fff" stroke-width="1.1" stroke-linejoin="round" stroke-linecap="round" />
<path d="M739.1 382.2 L743.1 384.6" fill="none" stroke="#fff" stroke-width="1.1" stroke-linejoin="round" stroke-linecap="round" />
<path d="M791.8 412.9 L797.7 411.2 L809.2 409.1 L810.8 411.9 L803.2 420.8 L799 425.5Z" fill="#000" stroke="#000" stroke-width="1.4" stroke-linejoin="round" stroke-linecap="round" />
<path d="M797 414 L803.8 411.8" fill="none" stroke="#fff" stroke-width="1.2" stroke-linejoin="round" stroke-linecap="round" />
<path d="M799 417.4 L804.5 415" fill="none" stroke="#fff" stroke-width="1.1" stroke-linejoin="round" stroke-linecap="round" />
<path d="M780.7 415.8 L789.1 410.4 L794.1 411 L801.6 424 L799.6 428.6 L791.2 434Z" fill="#fff" stroke="#000" stroke-width="2.8" stroke-linejoin="round" stroke-linecap="round" />
<path d="M789 411.1 L799 428.4" fill="none" stroke="#000" stroke-width="3" stroke-linejoin="round" stroke-linecap="round" />
<path d="M783.9 413.4 L786.7 418.2" fill="none" stroke="#000" stroke-width="3.3" stroke-linejoin="round" stroke-linecap="round" />
<path d="M792.6 426.3 L795.3 431.1" fill="none" stroke="#000" stroke-width="3.5" stroke-linejoin="round" stroke-linecap="round" />
<path d="M797.6 421.1 L800.1 425.4" fill="none" stroke="#000" stroke-width="2.3" stroke-linejoin="round" stroke-linecap="round" />
<ellipse cx="784" cy="425.5" rx="6.6" ry="12.2" fill="#fff" stroke="#000" stroke-width="3.3" transform="rotate(-30 784 425.5)"/>
<ellipse cx="784.7" cy="425.5" rx="4.3" ry="8.6" fill="#000" stroke="#000" stroke-width="1.4" transform="rotate(-30 784.7 425.5)"/>
<ellipse cx="785.9" cy="425.8" rx="1.7" ry="3.6" fill="#fff" stroke="#fff" stroke-width="0.7" transform="rotate(-30 785.9 425.8)"/>
<path d="M776.2 421.2 L778.8 417.5" fill="none" stroke="#000" stroke-width="2.1" stroke-linejoin="round" stroke-linecap="round" />
<path d="M778 424.3 L781.1 421.4" fill="none" stroke="#000" stroke-width="2.1" stroke-linejoin="round" stroke-linecap="round" />
<path d="M782.4 432 L786.6 430.9" fill="none" stroke="#000" stroke-width="2.1" stroke-linejoin="round" stroke-linecap="round" />
<path d="M784 434.7 L788.6 434.4" fill="none" stroke="#000" stroke-width="2.1" stroke-linejoin="round" stroke-linecap="round" />
<path d="M778.8 421.6 L780.1 416.8" fill="none" stroke="#fff" stroke-width="1.1" stroke-linejoin="round" stroke-linecap="round" />
<path d="M783 430.7 L787.1 432.9" fill="none" stroke="#fff" stroke-width="1.1" stroke-linejoin="round" stroke-linecap="round" />
</g>
</svg>
</body></html>
